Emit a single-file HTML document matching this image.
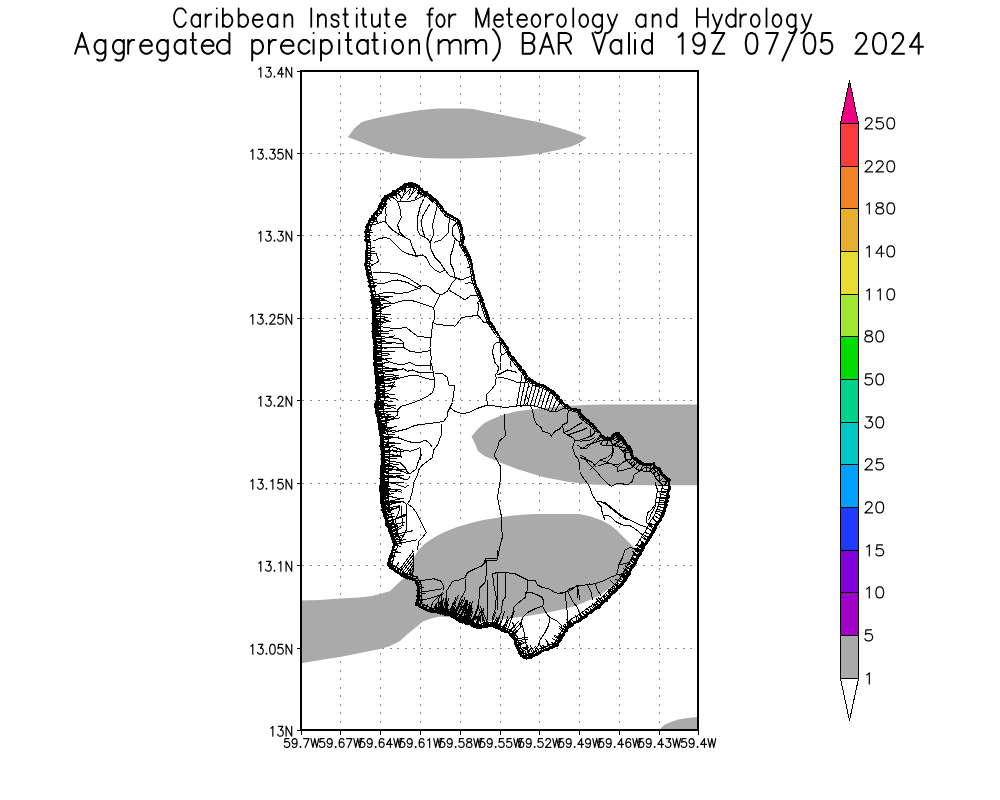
<!DOCTYPE html>
<html><head><meta charset="utf-8"><style>
html,body{margin:0;padding:0;background:#fff;overflow:hidden}
svg{display:block}
text{font-family:"Liberation Sans",sans-serif;fill:#000}
</style></head><body>
<svg width="1000" height="800" viewBox="0 0 1000 800">
<rect x="0" y="0" width="1000" height="800" fill="#fff"/>

<g stroke="#8c8c8c" stroke-width="1" shape-rendering="crispEdges">
<line x1="340.5" y1="72" x2="340.5" y2="729" stroke-dasharray="2 6.477" stroke-dashoffset="4.177"/>
<line x1="380.5" y1="72" x2="380.5" y2="729" stroke-dasharray="2 6.477" stroke-dashoffset="4.177"/>
<line x1="420.5" y1="72" x2="420.5" y2="729" stroke-dasharray="2 6.477" stroke-dashoffset="4.177"/>
<line x1="460.5" y1="72" x2="460.5" y2="729" stroke-dasharray="2 6.477" stroke-dashoffset="4.177"/>
<line x1="500.5" y1="72" x2="500.5" y2="729" stroke-dasharray="2 6.477" stroke-dashoffset="4.177"/>
<line x1="539.5" y1="72" x2="539.5" y2="729" stroke-dasharray="2 6.477" stroke-dashoffset="4.177"/>
<line x1="579.5" y1="72" x2="579.5" y2="729" stroke-dasharray="2 6.477" stroke-dashoffset="4.177"/>
<line x1="619.5" y1="72" x2="619.5" y2="729" stroke-dasharray="2 6.477" stroke-dashoffset="4.177"/>
<line x1="659.5" y1="72" x2="659.5" y2="729" stroke-dasharray="2 6.477" stroke-dashoffset="4.177"/>
<line x1="302" y1="153.5" x2="697" y2="153.5" stroke-dasharray="2 5.92" stroke-dashoffset="7.52"/>
<line x1="302" y1="235.5" x2="697" y2="235.5" stroke-dasharray="2 5.92" stroke-dashoffset="7.52"/>
<line x1="302" y1="318.5" x2="697" y2="318.5" stroke-dasharray="2 5.92" stroke-dashoffset="7.52"/>
<line x1="302" y1="400.5" x2="697" y2="400.5" stroke-dasharray="2 5.92" stroke-dashoffset="7.52"/>
<line x1="302" y1="483.5" x2="697" y2="483.5" stroke-dasharray="2 5.92" stroke-dashoffset="7.52"/>
<line x1="302" y1="565.5" x2="697" y2="565.5" stroke-dasharray="2 5.92" stroke-dashoffset="7.52"/>
<line x1="302" y1="648.5" x2="697" y2="648.5" stroke-dasharray="2 5.92" stroke-dashoffset="7.52"/>
</g>
<g fill="#aaaaaa" stroke="none">
<polygon points="347.80,137.00 354.30,128.60 360.80,122.80 366.00,120.80 379.00,117.60 392.00,115.00 405.00,112.40 418.00,110.40 431.00,109.10 438.80,108.50 463.50,108.50 473.00,109.10 486.00,111.70 499.00,114.30 512.00,116.90 525.00,119.50 538.00,122.10 551.00,125.40 564.00,129.30 577.00,133.80 586.80,137.70 579.60,142.90 570.50,146.80 557.50,150.10 544.50,152.70 531.50,154.60 518.50,155.90 499.00,157.20 479.50,157.90 460.00,158.50 438.80,158.50 424.50,157.90 411.50,156.60 398.50,154.60 385.50,151.40 372.50,146.80 359.50,141.60"/>
<polygon points="699.00,404.40 652.00,404.40 604.00,404.50 588.50,404.75 575.50,405.40 562.50,406.10 549.50,407.40 536.50,408.70 527.40,410.00 517.00,411.30 504.00,414.50 497.50,417.10 491.00,419.70 484.50,423.00 478.00,428.80 471.50,436.60 475.40,444.40 478.00,450.90 484.50,456.10 491.00,458.70 504.00,463.90 517.00,469.10 530.00,473.00 543.00,476.90 556.00,479.50 569.00,482.10 582.00,483.40 595.00,484.70 652.00,485.20 699.00,485.20"/>
<polygon points="300.00,600.50 320.00,600.00 340.00,598.50 360.00,597.50 372.00,596.00 380.00,594.00 390.00,591.00 397.40,584.00 402.00,579.50 407.50,576.50 411.00,570.00 412.50,560.00 418.00,550.50 424.50,544.00 431.00,539.50 437.50,535.60 444.00,532.30 457.00,527.10 470.00,523.20 483.00,520.00 496.00,518.00 509.00,516.00 522.00,514.75 535.00,513.90 545.00,514.00 560.00,514.00 579.50,514.00 590.00,516.25 600.50,520.00 609.50,524.50 617.00,530.50 624.50,538.00 630.50,544.00 635.00,548.00 634.00,554.50 631.00,562.00 627.50,569.50 623.00,577.00 617.00,583.00 608.00,589.00 600.50,595.00 593.00,598.50 584.00,602.50 575.00,606.00 560.00,610.00 545.00,613.00 530.00,615.50 520.00,617.00 510.00,618.00 500.00,619.50 490.00,621.00 480.00,621.50 470.00,621.00 460.00,619.50 450.00,617.20 440.00,616.50 431.00,618.40 423.00,621.60 415.00,628.00 407.00,634.40 400.00,641.00 390.00,646.00 380.00,649.00 360.00,653.00 340.00,657.00 320.00,660.00 300.00,663.50"/>
<polygon points="660.00,729.00 664.50,724.80 671.50,721.70 678.50,719.60 685.50,718.20 699.00,716.80 699.00,729.00"/>
</g>
<g fill="none" stroke="#000" stroke-linejoin="round" shape-rendering="crispEdges">
<path d="M391.2,192.5 L385.0,196.2 L381.2,201.2 L380.1,204.0 L382.7,204.0 L383.4,202.4 L386.6,198.1 L398.7,190.8 L398.9,190.7 L404.7,186.6 L412.2,185.0 L416.1,187.0 L420.8,191.7 L421.0,191.9 L421.2,192.0 L421.4,192.1 L426.2,194.5 L430.9,198.1 L433.0,200.1 L433.0,196.8 L432.5,196.2 L427.5,192.5 L422.5,190.0 L417.5,185.0 L412.5,182.5 L403.8,184.4 L397.5,188.8 L391.2,192.5ZM378.8,207.5 L375.0,212.5 L371.2,217.5 L367.5,223.8 L365.0,230.0 L365.0,237.5 L366.2,246.2 L366.2,255.0 L365.0,265.0 L366.2,270.0 L368.8,282.5 L371.2,295.0 L371.4,296.0 L373.6,296.0 L373.4,294.8 L373.4,294.6 L368.4,269.6 L368.4,269.5 L367.2,264.9 L368.4,255.3 L368.4,255.0 L368.4,246.2 L368.4,245.9 L367.2,237.3 L367.2,230.4 L369.5,224.7 L373.1,218.7 L380.5,208.8 L380.6,208.7 L380.7,208.5 L380.8,208.3 L382.5,204.0 L380.1,204.0 L378.8,207.5ZM372.5,307.5 L372.5,320.0 L372.5,332.5 L373.8,345.0 L373.8,360.0 L375.0,372.5 L376.2,385.0 L376.2,397.5 L375.0,407.5 L376.2,416.2 L378.8,425.0 L380.0,435.0 L380.6,447.5 L381.2,450.0 L381.2,462.5 L380.6,475.0 L380.0,487.5 L380.6,500.0 L382.5,512.5 L386.2,525.0 L391.2,537.5 L393.8,545.0 L397.2,545.0 L397.2,544.9 L397.2,544.6 L397.2,544.2 L397.1,543.9 L394.6,536.4 L394.5,536.2 L389.6,523.8 L385.9,511.7 L384.1,499.7 L383.5,487.5 L384.1,475.2 L384.7,462.7 L384.8,462.5 L384.8,450.0 L384.7,449.7 L384.7,449.4 L384.6,449.1 L384.1,447.0 L383.5,434.8 L383.5,434.6 L382.2,424.6 L382.2,424.3 L382.1,424.0 L379.7,415.5 L378.5,407.5 L379.7,397.9 L379.8,397.5 L379.8,385.0 L379.7,384.7 L377.2,359.8 L377.2,345.0 L377.2,344.7 L376.0,332.3 L376.0,307.5 L376.0,307.2 L374.9,296.0 L371.4,296.0 L372.5,307.5ZM391.2,551.2 L388.8,561.2 L387.5,565.0 L391.2,568.8 L397.5,572.5 L402.5,576.2 L408.8,578.8 L413.8,580.0 L416.0,582.5 L417.5,586.0 L417.5,600.0 L415.0,605.0 L420.0,607.5 L425.0,610.0 L431.0,612.0 L432.0,612.0 L432.0,610.2 L425.8,608.1 L417.7,604.1 L419.3,600.9 L419.4,600.7 L419.4,600.5 L419.5,600.4 L419.5,600.2 L419.5,600.0 L419.5,586.0 L419.5,585.8 L419.5,585.6 L419.4,585.4 L419.3,585.2 L417.8,581.7 L417.7,581.5 L417.6,581.3 L417.5,581.2 L415.2,578.7 L415.1,578.5 L414.9,578.4 L414.8,578.3 L414.6,578.2 L414.4,578.1 L414.2,578.1 L409.4,576.8 L403.5,574.5 L398.7,570.9 L398.5,570.8 L392.5,567.2 L389.8,564.5 L390.6,561.9 L390.7,561.7 L393.2,551.9 L395.6,545.7 L395.7,545.6 L395.7,545.4 L395.7,545.2 L395.7,545.0 L393.8,545.0 L391.2,551.2ZM432.5,612.5 L440.0,613.8 L447.5,615.0 L452.5,617.5 L458.8,621.2 L465.0,623.8 L472.5,626.2 L477.5,628.8 L485.0,627.5 L490.0,626.0 L495.0,627.5 L500.0,630.0 L506.2,632.5 L510.0,635.0 L513.8,638.8 L515.0,645.0 L515.0,636.9 L511.6,633.4 L511.4,633.3 L511.2,633.2 L507.5,630.7 L507.3,630.6 L507.1,630.5 L500.9,628.0 L496.0,625.5 L495.8,625.5 L495.6,625.4 L490.6,623.9 L490.4,623.8 L490.2,623.8 L490.0,623.8 L489.8,623.8 L489.6,623.8 L489.4,623.9 L484.5,625.4 L477.8,626.5 L473.5,624.3 L473.2,624.2 L465.8,621.7 L459.7,619.3 L453.6,615.6 L453.5,615.5 L448.5,613.0 L448.3,612.9 L448.1,612.9 L447.9,612.8 L433.0,610.4 L432.0,610.0 L432.0,612.3 L432.5,612.5ZM440.0,613.8 L447.5,615.0 L452.5,617.5 L458.8,621.2 L465.0,623.8 L471.8,626.0 L472.0,626.0 L472.0,622.9 L466.0,620.9 L460.1,618.6 L454.0,614.9 L453.8,614.8 L448.8,612.3 L448.6,612.2 L448.3,612.1 L448.0,612.0 L436.0,610.0 L436.0,613.1 L440.0,613.8ZM517.5,650.0 L520.0,655.5 L525.0,658.8 L530.0,658.8 L535.0,656.0 L540.0,653.0 L545.0,651.0 L551.2,648.5 L557.5,646.2 L561.2,640.0 L563.8,635.0 L566.0,631.6 L566.0,628.4 L564.7,629.7 L564.5,629.9 L564.4,630.0 L561.9,633.8 L561.8,634.0 L559.3,638.9 L556.0,644.4 L550.5,646.4 L550.4,646.5 L539.2,651.0 L539.0,651.0 L538.9,651.1 L533.9,654.1 L529.4,656.5 L525.7,656.5 L521.7,654.0 L519.5,649.1 L519.5,649.0 L517.1,644.3 L515.9,638.3 L515.9,638.1 L515.8,637.9 L515.7,637.7 L515.6,637.5 L515.5,637.4 L515.3,637.2 L515.0,636.9 L515.0,645.0 L517.5,650.0ZM566.2,631.2 L570.0,627.5 L575.0,623.8 L580.0,621.2 L585.0,617.5 L590.0,613.8 L600.0,607.0 L607.5,600.0 L611.2,596.2 L616.2,591.2 L621.2,586.2 L625.0,581.2 L628.8,575.0 L632.5,568.8 L636.2,562.5 L640.0,555.0 L643.8,548.8 L646.0,545.0 L643.1,545.0 L637.9,553.7 L637.8,553.9 L634.1,561.3 L622.9,579.9 L619.4,584.6 L605.8,598.2 L598.4,605.0 L588.6,611.7 L588.5,611.8 L578.7,619.1 L573.9,621.5 L573.7,621.6 L573.5,621.8 L568.5,625.5 L568.2,625.7 L566.0,628.0 L566.0,631.6 L566.2,631.2ZM647.5,542.5 L652.5,535.0 L657.5,525.0 L661.2,520.0 L663.8,513.8 L666.2,507.5 L667.5,501.2 L668.8,495.0 L670.0,488.8 L670.0,478.8 L666.2,477.5 L662.5,473.8 L660.0,468.8 L656.2,466.2 L653.8,462.5 L647.5,463.8 L641.2,462.5 L636.2,458.8 L632.5,455.0 L631.2,447.5 L626.2,443.8 L622.5,437.5 L618.8,432.5 L613.8,433.8 L611.2,437.5 L605.0,437.5 L600.0,432.5 L600.0,436.0 L603.2,439.3 L603.4,439.4 L603.6,439.6 L603.8,439.7 L604.0,439.8 L604.3,439.9 L604.5,440.0 L604.8,440.0 L605.0,440.0 L611.2,440.0 L611.5,440.0 L611.7,440.0 L612.0,439.9 L612.2,439.8 L612.4,439.7 L612.6,439.6 L612.8,439.4 L613.0,439.3 L613.2,439.1 L613.3,438.9 L615.3,435.9 L617.7,435.3 L620.4,438.9 L624.1,445.0 L624.2,445.2 L624.4,445.4 L624.6,445.6 L624.8,445.8 L628.9,448.9 L630.0,455.4 L630.1,455.7 L630.2,455.9 L630.3,456.1 L630.4,456.4 L630.6,456.6 L630.7,456.8 L634.5,460.5 L634.8,460.8 L639.8,464.5 L639.9,464.6 L640.1,464.7 L640.3,464.8 L640.5,464.9 L640.8,465.0 L647.0,466.2 L647.3,466.2 L647.5,466.2 L647.7,466.2 L648.0,466.2 L652.6,465.3 L654.2,467.6 L654.3,467.8 L654.5,468.0 L654.7,468.2 L654.9,468.3 L658.1,470.5 L660.3,474.9 L660.4,475.1 L660.6,475.3 L660.7,475.5 L664.5,479.3 L664.7,479.4 L664.8,479.6 L665.0,479.7 L665.2,479.8 L665.5,479.9 L667.5,480.6 L667.5,488.5 L663.8,506.8 L659.1,518.8 L655.5,523.5 L655.4,523.7 L655.3,523.9 L650.3,533.7 L645.4,541.1 L645.4,541.2 L643.1,545.0 L646.0,545.0 L647.5,542.5ZM497.5,332.5 L495.0,328.8 L490.0,321.2 L487.5,315.0 L485.0,307.5 L482.5,300.0 L480.0,293.8 L477.5,287.5 L475.0,280.0 L473.8,272.5 L472.5,265.0 L470.0,257.5 L466.2,250.0 L462.5,243.8 L463.8,237.5 L462.5,230.0 L460.0,222.5 L457.5,218.8 L452.5,216.2 L447.5,213.8 L442.5,207.5 L437.5,201.2 L433.0,196.8 L433.0,199.3 L436.2,202.5 L446.1,214.9 L446.2,215.0 L446.4,215.1 L446.5,215.3 L446.7,215.4 L456.3,220.1 L458.4,223.3 L460.7,230.4 L461.9,237.5 L460.7,243.4 L460.7,243.6 L460.7,243.7 L460.7,243.9 L460.7,244.1 L460.8,244.2 L460.8,244.4 L460.9,244.5 L461.0,244.7 L464.7,250.9 L468.3,258.2 L470.7,265.4 L473.2,280.3 L473.3,280.4 L473.3,280.6 L475.8,288.1 L475.8,288.2 L480.8,300.6 L485.8,315.6 L485.8,315.7 L488.3,321.9 L488.4,322.1 L488.5,322.2 L497.0,335.0 L499.2,335.0 L497.5,332.5ZM598.8,431.2 L592.5,423.5 L587.5,420.0 L582.5,416.2 L580.0,410.0 L575.0,408.8 L570.0,407.5 L565.0,403.8 L560.0,398.8 L555.0,392.5 L550.0,388.8 L542.5,385.0 L535.0,382.5 L527.5,377.5 L526.2,373.8 L521.2,367.5 L516.2,361.2 L511.2,355.0 L507.5,347.5 L502.5,340.0 L500.0,336.2 L500.0,339.9 L505.8,348.5 L509.5,355.9 L509.6,356.1 L509.7,356.2 L524.5,374.7 L525.6,378.1 L525.7,378.3 L525.8,378.5 L525.9,378.6 L526.0,378.8 L526.1,378.9 L526.2,379.1 L526.4,379.2 L533.9,384.2 L534.0,384.3 L534.2,384.3 L534.4,384.4 L541.7,386.9 L548.9,390.5 L553.6,393.9 L558.4,400.0 L558.6,400.2 L563.6,405.2 L563.8,405.4 L568.8,409.1 L569.0,409.2 L569.1,409.3 L569.3,409.4 L569.5,409.4 L578.5,411.7 L580.6,417.0 L580.7,417.2 L580.8,417.3 L580.9,417.5 L581.0,417.6 L581.2,417.7 L581.3,417.9 L586.3,421.6 L586.4,421.6 L591.1,425.0 L596.8,432.0 L599.5,432.0 L598.8,431.2Z" fill="#000" stroke="none"/>
<path d="M405.4,188.1 L399.8,192.0 L399.6,192.2 L387.7,199.3 L384.8,203.2 L384.5,204.0M433.0,202.4 L429.9,199.3 L425.4,195.9 L420.7,193.6 L420.3,193.4 L420.0,193.1 L419.7,192.8 L415.1,188.3 L412.0,186.7 L405.4,188.1M385.0,204.0 L382.9,209.2 L382.8,209.5 L382.6,209.9 L382.4,210.2 L375.0,220.0 L371.5,225.8 L369.5,230.9 L369.5,237.2 L370.7,245.6 L370.8,246.2 L370.8,255.0 L370.7,255.6 L369.6,264.7 L370.6,268.9 L370.7,269.1 L375.7,294.1 L375.7,294.6 L375.9,296.0M379.4,296.0 L380.5,306.7 L380.5,307.5 L380.5,332.1 L381.7,344.2 L381.8,345.0 L381.8,359.6 L384.2,384.2 L384.2,385.0 L384.2,397.5 L384.2,398.5 L383.1,407.4 L384.1,414.6 L386.4,422.8 L386.6,423.4 L386.7,424.0 L387.9,434.0 L388.0,434.6 L388.6,446.3 L389.0,448.0 L389.1,448.6 L389.2,449.3 L389.2,450.0 L389.2,462.5 L389.2,462.9 L388.6,475.4 L388.0,487.5 L388.6,499.2 L390.3,510.7 L393.8,522.4 L398.7,534.5 L398.8,535.0 L401.3,542.5 L401.6,543.2 L401.7,544.0 L401.7,544.8 L401.7,545.0M397.7,545.0 L397.7,545.3 L397.7,545.7 L397.6,546.1 L397.5,546.5 L395.1,552.5 L392.6,562.2 L392.5,562.5 L392.1,563.9 L393.7,565.6 L399.6,569.1 L399.9,569.3 L404.5,572.7 L410.0,574.9 L414.7,576.1 L415.1,576.2 L415.5,576.4 L415.8,576.6 L416.1,576.8 L416.4,577.0 L416.7,577.3 L419.0,579.8 L419.2,580.2 L419.5,580.5 L419.7,580.9 L421.2,584.4 L421.3,584.8 L421.4,585.2 L421.5,585.6 L421.5,586.0 L421.5,600.0 L421.5,600.4 L421.4,600.7 L421.3,601.1 L421.2,601.4 L421.1,601.8 L420.4,603.2 L426.5,606.3 L432.0,608.1M432.0,608.1 L433.5,608.6 L448.2,611.1 L448.5,611.1 L448.9,611.3 L449.3,611.4 L454.3,613.9 L454.6,614.1 L460.5,617.7 L466.4,620.0 L473.8,622.5 L474.3,622.7 L478.1,624.6 L484.1,623.6 L488.9,622.2 L489.2,622.1 L489.6,622.0 L490.0,622.0 L490.4,622.0 L490.8,622.1 L491.1,622.2 L496.1,623.7 L496.5,623.8 L496.8,623.9 L501.6,626.3 L507.7,628.8 L508.1,629.0 L508.5,629.2 L512.2,631.7 L512.5,631.9 L512.8,632.2 L515.0,634.3M436.0,607.0 L448.5,609.1 L449.1,609.2 L449.6,609.4 L450.2,609.6 L455.2,612.1 L455.6,612.4 L461.4,615.9 L467.1,618.1 L472.0,619.8M515.0,634.3 L516.6,635.9 L516.8,636.2 L517.1,636.5 L517.3,636.9 L517.4,637.2 L517.6,637.6 L517.7,638.0 L518.8,643.7 L521.1,648.2 L521.1,648.3 L523.2,652.8 L526.2,654.8 L529.0,654.8 L533.0,652.5 L537.9,649.6 L538.2,649.4 L538.5,649.3 L549.8,644.8 L549.9,644.7 L554.8,643.0 L557.7,638.1 L560.2,633.2 L560.4,632.8 L562.9,629.0 L563.2,628.7 L563.4,628.4 L566.0,625.8M566.0,623.0 L566.4,622.7 L571.4,619.0 L571.8,618.6 L572.3,618.4 L576.8,616.1 L586.4,609.0 L586.6,608.8 L596.3,602.3 L603.3,595.7 L616.7,582.3 L620.0,577.9 L631.0,559.6 L634.6,552.3 L634.9,551.9 L639.0,545.0M636.7,545.0 L640.6,538.4 L640.8,538.1 L645.6,531.0 L650.3,521.4 L650.7,520.8 L651.1,520.2 L654.2,516.0 L658.5,505.2 L662.0,488.0 L662.0,484.3 L661.7,484.1 L661.1,483.7 L660.6,483.2 L656.8,479.4 L656.3,478.8 L655.8,478.1 L655.3,477.3 L653.8,474.2 L651.8,472.9 L651.2,472.4 L650.6,471.9 L650.1,471.4 L649.1,471.6 L648.3,471.7 L647.5,471.8 L646.7,471.7 L645.9,471.6 L639.7,470.3 L639.0,470.2 L638.3,469.9 L637.7,469.7 L637.0,469.3 L636.5,468.9 L631.5,465.1 L630.6,464.4 L626.8,460.7 L626.3,460.0 L625.8,459.4 L625.4,458.7 L625.0,457.9 L624.8,457.1 L624.6,456.3 L623.9,452.0 L621.5,450.1 L620.9,449.7 L620.3,449.1 L619.8,448.5 L619.4,447.9 L616.7,443.4 L616.3,443.7 L615.7,444.1 L615.0,444.6 L614.3,444.9 L613.6,445.2 L612.8,445.3 L612.0,445.5 L611.2,445.5 L605.0,445.5 L604.2,445.5 L603.4,445.3 L602.7,445.2 L601.9,444.9 L601.2,444.6 L600.6,444.2 L600.0,443.7M495.6,335.0 L487.5,322.9 L487.3,322.6 L487.2,322.4 L484.7,316.1 L484.7,315.9 L479.7,301.0 L474.7,288.6 L474.7,288.4 L472.2,280.9 L472.1,280.7 L472.0,280.5 L469.6,265.7 L467.2,258.7 L463.6,251.4 L459.9,245.3 L459.8,245.1 L459.7,244.8 L459.6,244.5 L459.5,244.3 L459.5,244.0 L459.5,243.7 L459.5,243.4 L459.6,243.2 L460.7,237.5 L459.6,230.7 L457.3,223.8 L455.4,221.1 L446.2,216.4 L445.9,216.3 L445.6,216.1 L445.4,215.9 L445.2,215.6 L435.3,203.3 L433.0,201.0M595.5,432.0 L590.4,425.7 L585.8,422.5 L585.7,422.4 L580.7,418.6 L580.5,418.5 L580.3,418.3 L580.1,418.1 L580.0,417.9 L579.8,417.6 L579.7,417.4 L577.8,412.5 L569.3,410.4 L569.0,410.3 L568.7,410.2 L568.4,410.1 L568.2,409.9 L563.2,406.1 L562.9,405.9 L557.9,400.9 L557.7,400.6 L552.9,394.7 L548.4,391.3 L541.3,387.8 L534.1,385.3 L533.8,385.3 L533.6,385.1 L533.3,385.0 L525.8,380.0 L525.6,379.8 L525.4,379.6 L525.2,379.4 L525.0,379.2 L524.9,379.0 L524.8,378.7 L524.7,378.4 L523.6,375.2 L508.9,356.9 L508.7,356.6 L508.6,356.3 L504.9,349.0 L500.0,341.7" stroke-width="1"/>
<path d="M403.8,184.4 L406.5,187.6M402.1,185.6 L404.6,188.9M400.3,186.8 L402.5,190.4M399.2,187.6 L402.2,190.5M397.1,189.0 L399.7,192.3M395.7,189.8 L397.1,193.8M394.1,190.8 L395.7,194.7M392.4,191.8 L394.3,195.5M391.2,192.6 L393.1,196.3M388.9,193.9 L391.1,197.5M386.9,195.1 L388.8,198.9M385.8,195.8 L387.6,199.6M384.3,197.2 L387.8,199.5M383.5,198.2 L386.4,201.2M382.3,199.8 L385.4,202.6M381.0,202.0 L384.6,204.0M433.0,196.7 L430.2,199.9M431.0,195.1 L428.6,198.6M428.9,193.5 L425.9,196.4M427.8,192.7 L426.0,196.5M426.4,192.0 L423.9,195.3M424.7,191.1 L422.7,194.8M423.2,190.4 L421.2,194.1M421.8,189.3 L419.0,192.4M420.3,187.8 L417.2,190.6M418.4,185.9 L415.2,188.6M416.3,184.4 L413.8,187.8M413.8,183.1 L411.6,186.7M412.5,182.5 L411.4,186.6M409.8,183.1 L410.0,187.3M407.7,183.5 L408.2,187.7M406.2,183.9 L406.5,188.1M404.1,184.3 L405.4,188.3M380.1,204.1 L384.7,205.4M379.5,205.6 L383.9,207.3M378.4,207.9 L382.8,209.8M377.3,209.4 L381.3,212.0M375.6,211.7 L379.5,214.4M373.9,213.9 L378.1,216.2M372.8,215.4 L376.4,218.5M371.1,217.8 L375.1,220.3M370.2,219.2 L374.6,221.0M369.0,221.2 L373.4,223.1M367.6,223.5 L371.5,226.3M367.0,225.0 L371.5,226.4M366.0,227.6 L370.2,229.6M365.0,230.1 L369.7,230.6M365.0,231.7 L369.7,231.3M365.0,234.4 L369.7,233.9M365.0,236.3 L369.7,236.2M365.1,238.4 L369.8,237.6M365.5,241.3 L370.1,239.9M365.7,242.6 L370.4,242.8M366.1,245.4 L370.8,245.8M366.2,247.5 L370.9,248.4M366.2,250.5 L370.9,249.9M366.2,253.1 L370.9,253.8M366.2,255.6 L370.9,256.1M366.0,257.4 L370.7,257.7M365.7,259.1 L370.5,258.8M365.4,261.4 L370.2,261.6M365.1,264.2 L369.8,263.7M365.5,267.0 L370.2,266.2M366.2,269.9 L370.9,269.6M366.8,272.7 L371.5,271.9M367.1,274.0 L371.8,273.6M367.4,275.6 L371.9,274.3M367.9,278.1 L372.5,277.2M368.3,280.1 L373.0,280.0M368.7,282.4 L373.3,281.2M369.1,284.1 L373.8,283.9M369.5,286.3 L374.2,285.9M369.9,288.2 L374.4,286.7M370.3,290.4 L375.0,290.1M370.6,292.0 L375.4,291.6M371.2,294.9 L375.9,294.7M371.4,296.5 L379.8,296.8M371.5,297.7 L379.7,295.7M371.6,298.9 L380.0,298.4M371.8,300.7 L380.1,299.5M371.9,302.0 L380.3,300.8M372.1,303.3 L380.4,302.2M372.2,304.3 L380.5,303.5M372.4,306.4 L380.7,305.2M372.5,308.1 L380.8,306.8M372.5,309.9 L380.9,310.8M372.5,311.6 L380.9,311.6M372.5,313.1 L380.9,313.6M372.5,315.0 L380.8,313.8M372.5,316.1 L380.9,316.9M372.5,318.1 L380.9,318.1M372.5,319.5 L380.9,320.3M372.5,320.6 L380.9,319.8M372.5,321.8 L380.9,322.1M372.5,323.0 L380.8,322.1M372.5,324.8 L380.7,326.3M372.5,326.0 L380.9,326.7M372.5,327.4 L380.8,328.7M372.5,329.0 L380.9,328.2M372.5,330.2 L380.7,328.5M372.5,331.6 L380.9,331.2M372.5,332.8 L380.9,331.7M372.7,334.0 L381.1,334.2M372.8,335.1 L381.1,336.0M372.9,336.6 L381.3,336.1M373.1,338.0 L381.4,338.4M373.2,339.9 L381.6,339.3M373.4,341.4 L381.8,341.3M373.6,343.3 L381.9,342.1M373.8,345.1 L382.1,346.3M373.8,346.5 L382.1,345.6M373.8,347.7 L382.1,348.5M373.8,349.4 L382.0,351.0M373.8,351.3 L382.1,350.4M373.8,352.5 L382.1,351.6M373.8,353.6 L382.1,354.3M373.8,355.5 L382.0,356.9M373.8,356.7 L382.1,358.0M373.8,358.0 L382.1,357.7M373.8,359.8 L382.0,358.0M373.8,360.8 L382.2,361.2M374.0,362.0 L382.2,360.7M374.1,363.6 L382.5,363.4M374.2,364.5 L382.5,363.1M374.3,365.9 L382.7,365.1M374.5,367.1 L382.8,366.5M374.7,369.1 L383.0,367.9M374.8,370.7 L382.9,368.5M374.9,371.9 L383.3,371.6M375.0,372.9 L383.4,373.4M375.2,374.9 L383.3,372.7M375.4,376.9 L383.7,375.6M375.6,378.7 L384.0,378.8M375.7,380.0 L384.1,379.8M375.9,381.7 L384.3,381.9M376.0,382.9 L384.4,382.9M376.2,384.9 L384.6,385.1M376.2,386.5 L384.5,385.1M376.2,388.0 L384.6,387.4M376.2,389.7 L384.6,390.3M376.2,391.3 L384.6,390.2M376.2,393.0 L384.6,393.4M376.2,394.1 L384.5,395.5M376.2,395.8 L384.5,394.5M376.2,397.8 L384.6,397.2M376.1,399.1 L384.3,400.9M375.9,400.7 L384.2,401.9M375.6,402.3 L384.0,403.2M375.5,403.6 L383.9,403.5M375.4,404.6 L383.6,406.4M375.1,406.4 L383.5,407.6M375.1,408.1 L383.4,406.8M375.3,409.4 L383.5,407.8M375.5,411.3 L383.5,408.5M375.8,412.8 L383.9,410.7M376.0,414.6 L384.2,412.9M376.2,415.9 L384.4,414.0M376.6,417.4 L384.9,416.0M376.9,418.6 L385.3,417.5M377.2,419.6 L385.0,416.6M377.5,420.6 L385.1,417.0M378.0,422.4 L386.3,420.8M378.3,423.5 L386.0,420.1M378.7,424.8 L387.0,423.8M379.0,426.7 L387.4,426.5M379.2,428.3 L387.2,426.0M379.3,429.6 L387.5,427.5M379.5,431.1 L387.9,430.3M379.7,432.3 L387.8,430.4M379.9,434.1 L387.9,431.5M380.0,436.0 L388.4,436.9M380.1,438.0 L388.5,437.2M380.2,439.6 L388.6,439.4M380.3,441.2 L388.6,442.5M380.4,442.9 L388.7,441.8M380.5,444.9 L388.9,444.4M380.6,446.5 L388.9,446.9M380.6,447.4 L389.0,447.2M381.0,449.0 L389.1,446.9M381.2,450.5 L389.6,449.9M381.2,451.7 L389.6,451.8M381.2,452.6 L389.6,452.6M381.2,454.3 L389.6,454.1M381.2,455.9 L389.5,457.5M381.2,457.8 L389.6,456.6M381.2,459.7 L389.6,460.1M381.2,460.6 L389.6,460.1M381.2,461.8 L389.5,460.4M381.2,463.4 L389.4,465.3M381.1,464.7 L389.4,466.4M381.0,466.4 L389.4,465.5M380.9,468.3 L389.3,469.1M380.8,470.3 L389.2,471.5M380.8,472.1 L389.1,472.0M380.7,474.0 L388.8,475.9M380.6,475.9 L389.0,476.1M380.5,477.7 L388.9,478.1M380.4,478.7 L388.7,477.5M380.4,479.7 L388.7,479.1M380.3,480.8 L388.7,481.2M380.2,482.6 L388.6,483.1M380.2,484.0 L388.5,484.9M380.1,485.2 L388.5,485.5M380.0,487.0 L388.4,486.9M380.0,488.2 L388.4,489.3M380.1,489.9 L388.5,489.0M380.2,491.3 L388.6,491.0M380.3,492.9 L388.5,491.5M380.3,493.8 L388.6,492.4M380.4,495.6 L388.6,494.0M380.5,497.1 L388.7,495.6M380.5,498.2 L388.8,496.7M380.6,499.6 L388.8,497.8M380.7,500.5 L388.7,498.1M380.8,501.6 L389.1,500.3M381.0,502.6 L388.9,499.7M381.2,504.0 L389.5,502.4M381.5,505.7 L389.4,502.9M381.7,507.1 L389.9,505.5M381.8,508.0 L390.2,508.4M382.0,509.2 L390.0,506.5M382.2,510.6 L390.3,508.2M382.5,512.2 L390.6,510.0M382.7,513.2 L390.2,509.5M383.2,514.9 L391.0,511.8M383.8,516.7 L391.8,514.2M384.3,518.6 L392.2,515.6M384.7,519.8 L392.5,516.6M385.2,521.6 L393.4,519.6M385.6,522.9 L393.1,519.1M386.1,524.5 L394.4,523.5M386.7,526.0 L393.6,521.3M387.0,526.9 L394.2,522.5M387.4,527.9 L394.5,523.3M387.8,528.8 L395.8,526.2M388.5,530.6 L395.9,526.6M389.3,532.6 L397.0,529.4M390.0,534.3 L398.2,532.6M390.7,536.2 L397.8,531.6M391.2,537.4 L399.2,534.8M391.8,539.3 L399.2,535.3M392.2,540.5 L400.5,539.0M392.6,541.5 L400.4,538.4M393.0,542.7 L401.1,540.6M393.6,544.6 L401.7,542.4M393.6,545.4 L397.7,546.2M392.4,548.3 L396.1,550.4M391.0,552.2 L395.1,553.3M390.3,554.9 L394.3,556.2M389.8,556.9 L394.0,557.7M388.9,560.6 L392.8,562.1M388.4,562.4 L392.1,564.3M387.5,565.0 L391.7,564.8M389.4,566.9 L392.0,563.6M391.7,569.0 L394.6,566.0M394.1,570.5 L396.8,567.2M397.1,572.3 L399.2,568.6M399.2,573.8 L401.7,570.4M401.4,575.4 L403.7,571.9M404.3,577.0 L406.5,573.4M407.3,578.2 L408.3,574.1M409.5,578.9 L410.3,574.8M412.7,579.7 L413.1,575.5M414.3,580.6 L417.1,577.5M416.0,582.5 L419.0,579.6M417.2,585.3 L421.4,584.6M417.5,588.4 L421.7,588.8M417.5,592.1 L421.7,592.7M417.5,596.1 L421.7,596.0M417.5,599.6 L421.7,599.5M415.9,603.1 L419.8,604.8M415.7,605.4 L418.5,602.2M418.0,606.5 L419.3,602.5M421.4,608.2 L423.4,604.5M423.1,609.1 L424.2,605.0M425.5,610.2 L426.1,606.0M429.1,611.4 L429.9,607.3M432.4,612.5 L433.2,608.3M433.6,612.7 L433.9,608.5M435.0,612.9 L436.0,608.8M436.4,613.2 L436.5,609.0M437.7,613.4 L438.3,609.2M439.5,613.7 L439.8,609.5M441.5,614.0 L441.6,609.8M443.4,614.3 L444.2,610.2M444.6,614.5 L445.7,610.5M446.1,614.8 L446.9,610.6M447.9,615.2 L449.7,611.4M449.4,615.9 L450.5,611.9M451.2,616.9 L453.6,613.4M452.7,617.6 L454.9,614.0M453.9,618.3 L456.6,615.2M455.6,619.3 L457.3,615.5M457.4,620.4 L460.3,617.4M458.7,621.2 L461.3,617.9M460.2,621.8 L461.3,617.8M462.1,622.6 L463.4,618.6M464.0,623.3 L465.7,619.5M465.0,623.8 L466.5,619.8M467.1,624.5 L468.4,620.5M468.8,625.0 L470.7,621.3M470.3,625.5 L471.6,621.5M472.0,626.1 L474.0,622.4M473.2,626.6 L474.4,622.6M475.1,627.5 L477.0,623.8M476.3,628.2 L478.8,624.8M478.4,628.6 L477.9,624.4M480.8,628.2 L480.6,624.0M482.8,627.9 L481.7,623.8M483.8,627.7 L483.4,623.5M485.8,627.3 L484.3,623.3M487.4,626.8 L486.3,622.7M488.7,626.4 L487.8,622.3M490.4,626.1 L490.6,621.9M491.5,626.4 L492.8,622.5M492.9,626.9 L494.5,623.0M494.1,627.2 L495.1,623.2M495.3,627.6 L496.8,623.7M496.9,628.5 L498.1,624.4M497.9,628.9 L499.7,625.2M499.0,629.5 L500.9,625.8M500.2,630.1 L501.2,626.0M501.8,630.7 L504.0,627.2M503.8,631.5 L505.4,627.6M505.3,632.1 L506.1,628.0M506.5,632.7 L508.3,628.9M508.5,634.0 L510.2,630.1M510.3,635.3 L513.1,632.2M511.5,636.5 L514.1,633.2M513.1,638.1 L515.7,634.8M513.9,639.6 L518.0,638.7M514.2,640.9 L518.2,639.6M514.6,643.2 L518.8,642.9M436.3,613.1 L436.7,606.8M437.6,613.4 L439.1,607.2M439.4,613.7 L441.6,607.7M440.9,613.9 L441.1,607.6M442.1,614.1 L442.0,607.8M443.3,614.3 L444.6,608.1M444.9,614.6 L445.3,608.3M446.0,614.8 L446.0,608.5M447.1,614.9 L448.7,608.8M448.2,615.4 L451.8,610.2M449.6,616.1 L452.1,610.3M450.9,616.7 L452.6,610.6M452.5,617.5 L456.1,612.3M453.7,618.2 L457.4,613.1M454.7,618.8 L457.3,613.1M455.7,619.4 L458.2,613.7M457.1,620.3 L460.7,615.1M458.6,621.2 L460.5,615.2M460.3,621.9 L462.6,616.0M461.6,622.4 L463.9,616.5M462.9,622.9 L464.5,616.8M464.2,623.4 L466.8,617.7M465.8,624.0 L468.8,618.5M466.9,624.4 L469.8,618.8M468.6,625.0 L471.2,619.2M470.6,625.6 L471.7,619.4M515.0,645.0 L519.1,644.2M515.9,646.8 L519.5,644.7M516.8,648.6 L520.8,647.3M517.6,650.2 L521.3,648.2M518.3,651.8 L521.7,649.3M519.2,653.7 L523.0,651.9M520.0,655.5 L523.1,652.7M521.7,656.6 L524.3,653.3M522.9,657.4 L525.9,654.4M524.1,658.1 L526.9,655.0M525.4,658.8 L526.6,654.7M527.0,658.8 L526.3,654.6M529.1,658.8 L529.6,654.6M531.4,658.0 L530.0,654.0M533.8,656.6 L531.2,653.4M535.4,655.8 L532.7,652.5M537.5,654.5 L535.2,651.0M539.5,653.3 L538.0,649.4M542.1,652.2 L540.8,648.2M544.5,651.2 L543.0,647.3M545.7,650.7 L544.8,646.6M547.0,650.2 L544.8,646.6M549.3,649.3 L547.4,645.5M551.4,648.4 L549.2,644.9M552.9,647.9 L551.8,643.9M554.1,647.5 L552.7,643.5M556.6,646.6 L554.7,642.8M558.2,645.1 L554.8,642.6M559.3,643.2 L556.0,640.6M560.5,641.2 L556.6,639.8M561.3,639.9 L557.6,637.8M562.5,637.4 L558.6,636.0M563.5,635.5 L559.5,634.2M564.8,633.4 L561.3,631.1M566.0,631.7 L562.8,629.0M566.1,631.5 L561.4,627.3M567.0,630.5 L563.0,625.6M568.1,629.4 L564.7,624.1M569.1,628.4 L564.3,624.4M570.3,627.3 L567.0,621.9M572.3,625.8 L568.7,620.6M573.4,624.9 L569.5,620.0M575.3,623.6 L571.2,618.8M577.7,622.4 L575.7,616.4M580.1,621.2 L577.2,615.6M581.8,619.9 L579.1,614.2M583.1,618.9 L579.0,614.2M584.3,618.1 L579.8,613.6M586.2,616.6 L581.7,612.2M588.2,615.1 L584.2,610.3M590.3,613.6 L587.2,608.1M592.2,612.3 L589.4,606.6M593.2,611.6 L589.2,606.7M594.7,610.6 L591.0,605.5M596.6,609.3 L593.9,603.6M598.5,608.0 L596.0,602.2M600.4,606.6 L596.0,602.1M601.9,605.2 L598.1,600.2M603.7,603.5 L599.2,599.2M605.0,602.3 L600.9,597.5M606.2,601.3 L602.6,596.0M607.0,600.4 L603.0,595.6M608.4,599.1 L603.5,595.2M609.9,597.6 L605.4,593.2M611.9,595.6 L608.2,590.5M613.4,594.1 L609.7,589.0M615.2,592.3 L610.2,588.5M617.0,590.5 L613.2,585.5M619.0,588.5 L615.0,583.6M620.3,587.2 L615.3,583.3M621.8,585.6 L616.3,582.4M623.2,583.6 L618.3,579.7M624.7,581.6 L619.4,578.3M625.6,580.2 L620.9,576.1M626.8,578.2 L621.2,575.3M627.9,576.5 L622.4,573.4M629.0,574.5 L623.6,571.3M629.9,573.1 L625.2,568.9M631.2,570.9 L626.2,567.1M632.1,569.5 L626.3,566.9M633.3,567.4 L628.4,563.5M634.4,565.5 L628.7,562.9M635.7,563.5 L630.3,560.2M636.5,561.9 L631.1,558.8M637.4,560.2 L631.9,557.0M638.5,558.1 L633.5,554.2M639.1,556.8 L633.5,553.8M640.3,554.4 L635.1,550.9M641.4,552.6 L636.6,548.6M642.1,551.5 L637.1,547.7M643.2,549.6 L637.9,546.2M644.1,548.2 L638.9,544.7M644.8,547.0 L639.4,543.7M645.6,545.6 L640.9,541.4M646.1,544.9 L639.5,539.6M648.2,541.4 L641.2,536.8M650.2,538.5 L642.8,534.5M652.3,535.3 L644.5,532.2M654.1,531.9 L646.7,527.8M654.9,530.1 L648.2,525.0M656.1,527.8 L648.0,525.5M657.2,525.7 L649.1,523.3M658.5,523.6 L652.3,518.0M661.0,520.3 L654.2,515.4M662.6,516.7 L655.2,512.6M663.9,513.5 L655.9,510.7M664.8,511.2 L656.6,509.3M665.9,508.4 L657.8,506.3M666.8,504.9 L658.4,503.9M667.4,501.8 L659.2,500.0M668.0,498.5 L659.7,498.1M668.5,496.2 L660.4,493.9M669.0,493.9 L660.9,491.7M669.8,489.9 L661.5,488.6M670.0,485.8 L661.6,485.4M670.0,481.7 L661.6,481.6M669.4,478.5 L664.8,485.6M667.2,477.8 L664.5,485.8M664.7,476.0 L658.9,482.0M662.4,473.5 L654.7,476.9M660.7,470.2 L652.8,473.0M659.6,468.5 L653.6,474.3M656.8,466.6 L650.6,472.3M655.6,465.3 L649.3,470.9M653.0,462.6 L654.1,471.0M649.6,463.3 L650.9,471.6M646.9,463.6 L646.1,472.0M643.8,463.0 L640.5,470.7M640.9,462.2 L635.8,468.9M638.8,460.7 L633.2,466.9M636.2,458.7 L630.1,464.5M633.5,456.0 L628.7,462.9M632.1,452.3 L623.7,453.3M631.7,449.9 L623.4,451.4M631.3,447.9 L623.9,451.9M628.5,445.5 L622.9,451.7M625.7,442.9 L619.2,448.2M624.7,441.1 L617.7,445.8M623.1,438.5 L615.6,442.2M621.7,436.5 L614.5,440.8M619.8,433.9 L613.5,439.5M616.9,433.0 L620.3,440.6M613.7,433.8 L619.5,439.9M612.7,435.3 L619.7,439.9M610.8,437.5 L612.5,445.7M608.1,437.5 L606.6,445.8M604.6,437.1 L600.6,444.5M603.3,435.8 L596.3,440.5M601.3,433.8 L596.5,440.7M499.0,334.7 L496.2,336.3M497.7,332.8 L495.2,334.7M495.7,329.7 L493.1,331.6M493.7,326.7 L490.8,328.0M491.5,323.5 L488.8,325.1M489.7,320.4 L486.9,321.9M488.4,317.1 L485.4,318.1M487.1,313.9 L484.2,314.9M485.9,310.3 L483.1,311.6M484.7,306.7 L481.6,307.1M484.1,304.8 L481.2,306.1M482.7,300.6 L479.9,302.1M481.2,296.9 L478.3,297.9M480.5,294.9 L477.5,295.9M479.7,293.1 L476.7,293.9M478.7,290.6 L475.7,291.3M477.2,286.7 L474.4,288.1M476.3,283.9 L473.5,285.3M475.1,280.2 L472.2,281.5M474.7,278.2 L471.7,279.2M474.0,274.1 L471.0,274.9M473.6,271.4 L470.5,272.0M473.0,268.1 L469.9,268.7M472.1,263.9 L469.2,265.0M471.1,260.9 L468.0,261.4M470.3,258.5 L467.5,259.9M468.6,254.8 L465.9,256.4M466.8,251.0 L463.8,252.0M465.4,248.5 L462.8,250.3M464.2,246.6 L461.3,247.8M462.7,244.0 L459.7,245.1M462.9,241.7 L459.8,241.5M463.7,237.7 L460.6,238.0M463.2,234.4 L460.1,234.7M462.7,231.2 L459.6,231.7M461.9,228.3 L459.1,229.7M460.7,224.5 L457.6,225.0M459.3,221.5 L456.9,223.5M456.6,218.3 L455.6,221.3M454.5,217.3 L452.9,220.0M450.9,215.4 L449.4,218.2M448.9,214.5 L447.0,216.9M447.0,213.2 L444.8,215.4M444.3,209.7 L441.6,211.4M441.9,206.7 L439.8,209.1M439.3,203.5 L436.9,205.6M438.1,202.0 L435.4,203.6M435.1,198.9 L433.3,201.5M599.2,431.7 L596.6,433.4M597.5,429.7 L595.2,431.9M595.2,426.8 L592.8,428.9M592.6,423.6 L590.1,425.5M589.4,421.3 L587.4,423.7M587.5,420.0 L585.5,422.4M585.0,418.1 L583.1,420.7M582.5,416.2 L580.1,418.3M581.6,414.1 L578.6,414.8M580.6,411.6 L578.0,413.2M577.7,409.4 L576.9,412.5M574.3,408.6 L573.8,411.7M572.3,408.1 L571.7,411.2M568.8,406.6 L567.2,409.3M565.6,404.2 L563.9,406.9M562.8,401.5 L560.8,404.0M560.7,399.5 L558.9,402.0M559.3,397.9 L556.8,399.8M557.6,395.8 L555.1,397.7M556.2,394.0 L553.9,396.1M554.5,392.1 L552.1,394.2M552.9,390.9 L551.1,393.5M549.7,388.6 L548.1,391.3M547.6,387.5 L545.6,390.0M545.7,386.6 L544.8,389.6M544.1,385.8 L542.8,388.7M540.5,384.3 L539.8,387.4M538.2,383.6 L536.8,386.4M536.3,382.9 L535.9,386.1M533.3,381.4 L532.0,384.3M530.8,379.7 L529.4,382.5M528.1,377.9 L525.7,380.0M526.8,375.4 L523.9,376.7M525.3,372.5 L522.7,374.3M524.1,371.0 L521.8,373.2M522.4,368.9 L519.9,370.9M520.8,367.0 L518.3,368.8M519.3,365.1 L516.6,366.6M517.7,363.0 L515.5,365.3M516.4,361.5 L514.3,363.8M515.0,359.7 L512.3,361.2M513.2,357.5 L510.8,359.5M510.8,354.2 L507.8,355.1M509.2,350.9 L506.6,352.6M508.1,348.6 L505.2,350.0M506.9,346.5 L504.4,348.4M505.6,344.6 L503.2,346.6M503.6,341.6 L500.9,343.2M502.0,339.2 L499.4,341.0M500.2,336.5 L497.4,338.0" stroke-width="1"/>
<path d="M403.8,184.4 L406.1,192.0M402.4,185.4 L404.1,190.1M400.9,186.4 L405.7,191.2M398.2,188.2 L403.3,191.5M396.9,189.1 L398.5,193.5M394.1,190.8 L394.8,196.3M391.1,192.6 L393.3,195.2M388.8,194.0 L392.0,196.3M386.8,195.2 L388.4,198.6M385.4,196.0 L386.8,200.3M383.3,198.6 L385.9,202.7M381.8,200.5 L386.8,204.3M380.6,202.9 L386.1,205.4M432.8,196.6 L429.3,200.3M430.5,194.8 L428.7,198.9M427.8,192.7 L424.5,197.4M426.4,192.0 L424.2,197.4M425.1,191.3 L421.8,196.5M423.6,190.6 L420.7,195.0M421.4,188.9 L417.4,194.0M419.3,186.8 L418.1,189.8M417.2,184.8 L413.7,187.2M415.0,183.8 L412.6,187.7M413.0,182.8 L412.2,187.5M410.4,182.9 L412.3,187.5M407.5,183.6 L410.9,188.3M404.6,184.2 L406.1,188.0M380.1,204.1 L387.5,204.4M378.6,207.7 L383.4,208.7M377.2,209.6 L381.9,213.3M375.4,212.0 L377.4,214.2M374.2,213.5 L377.8,215.0M373.1,215.1 L378.1,222.5M371.9,216.7 L376.0,219.8M370.5,218.8 L377.3,222.0M368.8,221.6 L372.7,223.4M367.5,223.8 L374.2,225.1M366.2,227.1 L369.6,228.1M365.4,229.1 L372.3,231.1M365.0,232.7 L373.6,232.0M365.0,236.0 L370.6,235.8M365.2,239.0 L371.2,239.0M365.7,242.4 L370.4,241.6M366.1,245.5 L369.6,245.5M366.2,248.3 L375.4,247.8M366.2,252.4 L375.5,251.5M366.1,256.0 L372.4,255.8M365.9,258.1 L373.1,260.7M365.4,262.0 L372.6,264.5M365.1,265.5 L368.8,265.1M365.9,268.7 L369.2,266.4M366.7,272.2 L369.9,270.4M367.1,274.2 L371.3,274.5M367.5,276.0 L371.3,276.2M368.2,279.8 L377.0,279.1M369.0,283.8 L377.5,282.6M369.4,285.7 L376.0,285.6M370.1,289.1 L377.4,285.4M370.9,293.1 L375.5,290.5M371.4,296.5 L392.8,296.1M371.6,298.6 L385.4,299.2M371.8,300.4 L391.9,296.5M372.0,302.4 L382.5,300.5M372.2,304.7 L391.6,303.5M372.4,306.5 L382.8,305.4M372.5,308.9 L387.8,306.3M372.5,311.3 L382.0,311.9M372.5,312.8 L390.6,315.0M372.5,315.5 L387.6,317.4M372.5,318.1 L385.8,319.2M372.5,319.9 L386.7,317.7M372.5,322.6 L389.4,320.3M372.5,324.0 L390.7,321.3M372.5,325.6 L382.8,323.9M372.5,327.8 L380.7,328.0M372.5,329.4 L383.9,331.2M372.5,331.5 L393.0,330.9M372.6,333.6 L389.2,333.6M372.8,335.1 L381.8,333.2M373.0,337.6 L381.2,335.7M373.3,340.4 L395.1,335.8M373.4,341.7 L384.9,340.4M373.7,344.2 L391.9,343.3M373.8,346.6 L387.2,348.4M373.8,348.8 L383.5,348.6M373.8,351.3 L394.8,352.0M373.8,352.9 L389.2,353.1M373.8,355.2 L387.1,353.2M373.8,357.2 L390.4,354.7M373.8,359.6 L392.1,358.6M373.9,361.7 L387.3,359.0M374.2,364.5 L388.9,362.2M374.3,365.8 L384.8,363.7M374.6,368.5 L396.6,368.1M374.9,371.3 L397.7,369.9M375.1,373.3 L398.1,370.4M375.3,376.0 L391.1,376.9M375.6,378.4 L399.3,375.2M375.9,381.0 L398.5,377.1M376.0,382.5 L395.0,377.9M376.2,384.2 L394.3,382.7M376.2,385.5 L388.6,386.2M376.2,387.3 L396.1,386.3M376.2,389.7 L385.9,389.0M376.2,391.4 L385.5,391.1M376.2,392.9 L395.4,394.6M376.2,395.6 L398.0,399.3M376.2,397.4 L389.2,396.6M376.0,399.4 L392.5,401.6M375.8,401.1 L388.0,404.2M375.6,403.0 L395.8,408.4M375.3,404.7 L396.2,405.4M375.2,405.9 L391.7,405.8M375.1,408.0 L383.7,406.3M375.3,409.5 L390.7,408.7M375.7,412.2 L399.3,411.2M375.8,413.4 L383.8,411.4M376.1,415.3 L384.8,413.5M376.6,417.3 L388.4,412.0M377.0,418.9 L391.5,416.3M377.4,420.4 L390.9,414.1M378.0,422.5 L400.1,417.7M378.7,424.9 L388.5,422.0M379.0,427.3 L395.2,427.0M379.4,429.8 L391.8,428.5M379.5,431.3 L397.0,426.0M379.9,433.9 L395.3,434.2M380.1,436.2 L401.0,438.3M380.2,438.3 L396.4,437.1M380.2,439.8 L398.9,436.8M380.4,442.6 L394.9,442.1M380.4,444.4 L401.3,443.0M380.5,446.3 L391.0,447.5M380.7,448.0 L395.0,445.2M381.2,450.5 L404.1,451.5M381.2,452.6 L398.2,449.8M381.2,454.7 L393.7,454.7M381.2,457.1 L390.8,458.4M381.2,459.3 L397.5,458.6M381.2,462.0 L399.3,465.1M381.2,463.5 L391.9,465.6M381.1,465.3 L394.0,467.4M381.0,466.9 L403.6,471.7M380.9,468.6 L393.4,468.8M380.9,470.0 L404.5,469.2M380.8,471.3 L392.0,470.9M380.7,472.7 L400.6,473.9M380.6,475.2 L401.6,477.2M380.5,476.4 L403.9,475.8M380.5,477.7 L396.2,477.2M380.4,479.4 L389.1,479.9M380.3,480.9 L390.4,483.1M380.2,483.6 L404.0,482.0M380.1,485.9 L390.3,486.9M380.0,487.1 L390.8,488.3M380.1,488.6 L402.0,490.1M380.1,489.9 L396.6,491.8M380.2,491.7 L394.2,489.1M380.3,494.5 L390.4,493.2M380.4,495.9 L393.8,493.5M380.5,498.6 L391.4,496.4M380.8,501.3 L404.5,501.8M381.0,502.9 L403.8,498.2M381.3,504.8 L394.3,503.8M381.5,506.0 L401.1,502.0M381.9,508.5 L397.2,506.5M382.2,510.5 L398.5,507.7M382.6,513.0 L399.0,506.8M383.4,515.6 L394.1,513.7M384.2,518.2 L394.7,516.3M384.7,519.7 L392.8,516.3M385.5,522.4 L406.3,515.4M385.9,523.7 L405.5,514.0M386.7,526.0 L405.2,522.1M387.4,527.9 L396.5,525.3M388.2,529.9 L397.7,525.8M389.0,531.9 L403.5,525.0M389.7,533.5 L402.1,527.6M390.5,535.5 L412.9,530.7M391.4,537.9 L403.7,535.2M392.3,540.6 L401.4,536.7M392.9,542.5 L406.0,539.3M393.6,544.6 L416.6,539.8M393.6,545.4 L400.6,546.2M392.2,548.9 L399.3,552.5M390.9,552.5 L400.8,552.1M389.8,557.0 L396.5,556.7M388.6,561.6 L392.1,564.3M387.9,563.9 L394.1,565.9M390.4,567.9 L395.5,564.8M393.5,570.1 L398.7,562.4M396.1,571.6 L398.1,567.6M399.7,574.2 L402.7,565.0M403.1,576.5 L405.2,572.5M406.0,577.6 L409.2,569.1M409.9,579.0 L410.8,569.2M414.1,580.4 L417.5,576.5M416.2,583.0 L420.9,582.0M417.5,586.8 L423.6,587.1M417.5,591.7 L426.3,594.2M417.5,596.4 L421.8,595.5M417.4,600.2 L422.5,601.0M415.1,604.8 L423.5,601.9M419.7,607.3 L421.5,598.0M422.9,609.0 L424.3,604.0M425.2,610.1 L427.5,604.2M430.1,611.7 L432.4,608.0M432.4,612.5 L436.1,603.6M434.4,612.8 L437.3,601.6M436.2,613.1 L440.5,600.6M438.3,613.5 L439.2,594.8M439.8,613.7 L442.1,599.9M442.1,614.1 L446.0,598.5M444.1,614.4 L447.0,593.8M445.5,614.7 L448.6,597.6M447.1,614.9 L448.2,604.3M449.0,615.7 L456.1,596.9M450.6,616.5 L463.1,599.0M452.5,617.5 L456.3,609.7M454.1,618.5 L467.4,600.0M455.3,619.2 L465.0,597.5M457.1,620.3 L467.2,603.2M458.2,620.9 L467.6,604.8M460.0,621.7 L462.6,611.9M461.8,622.5 L466.9,613.6M462.8,622.9 L467.6,602.9M464.4,623.5 L472.7,601.1M466.2,624.2 L470.8,605.5M467.2,624.5 L471.9,605.9M468.5,624.9 L471.1,608.8M470.0,625.4 L474.5,616.9M472.1,626.1 L478.7,606.3M473.7,626.8 L480.2,615.4M474.9,627.5 L483.9,608.7M476.3,628.2 L481.6,614.5M477.4,628.7 L479.4,611.7M479.2,628.5 L477.6,615.9M480.3,628.3 L476.0,615.6M481.7,628.1 L480.0,615.9M483.8,627.7 L481.4,609.3M485.9,627.2 L481.8,613.0M487.4,626.8 L478.5,608.1M489.1,626.3 L479.9,605.4M490.9,626.3 L495.8,612.1M492.1,626.6 L496.9,617.1M493.7,627.1 L498.2,618.2M495.4,627.7 L500.1,616.7M497.5,628.8 L501.0,621.3M499.1,629.6 L504.6,611.0M501.2,630.5 L505.6,622.9M503.2,631.3 L507.9,616.5M504.6,631.8 L507.7,622.2M506.4,632.6 L514.6,610.6M507.3,633.2 L514.9,625.1M508.3,633.9 L518.6,621.0M510.1,635.1 L521.9,621.4M511.0,636.0 L523.1,625.2M512.7,637.7 L517.9,630.3M513.9,639.3 L528.4,636.9M514.3,641.4 L528.3,638.9M514.6,643.1 L523.0,641.7M514.9,644.6 L526.8,642.3M436.3,613.1 L439.5,601.9M437.7,613.4 L441.7,599.9M439.3,613.6 L443.8,598.2M440.3,613.8 L442.1,592.3M441.5,614.0 L443.3,597.9M443.2,614.3 L444.2,604.1M444.9,614.6 L446.7,599.3M446.7,614.9 L448.2,603.8M448.3,615.4 L453.1,603.2M449.9,616.2 L458.4,595.3M450.9,616.7 L456.1,604.7M452.1,617.3 L459.6,603.6M453.2,617.9 L463.2,598.6M454.7,618.8 L467.0,601.2M455.5,619.3 L461.3,607.8M456.3,619.8 L470.4,602.0M457.7,620.6 L463.9,610.8M458.8,621.3 L466.2,599.8M459.8,621.7 L467.1,599.6M460.7,622.0 L467.6,609.4M462.1,622.6 L468.1,600.8M463.2,623.0 L469.5,604.9M464.5,623.5 L467.9,612.3M465.8,624.0 L470.1,602.2M466.8,624.4 L470.2,610.2M467.7,624.6 L472.4,607.7M468.8,625.0 L472.7,611.5M470.1,625.4 L476.3,610.6M471.6,625.9 L475.2,614.8M515.0,645.0 L526.9,642.4M516.4,647.8 L522.3,643.9M517.2,649.3 L525.8,647.1M518.1,651.3 L528.4,646.8M519.0,653.2 L529.3,647.4M520.3,655.7 L523.7,651.2M523.0,657.5 L529.7,649.5M524.9,658.7 L529.7,651.2M526.7,658.8 L525.0,650.8M529.3,658.8 L527.3,645.4M531.8,657.8 L526.3,648.3M534.0,656.5 L530.0,648.0M536.2,655.3 L529.7,644.6M537.7,654.4 L534.8,647.3M540.4,652.9 L534.7,645.4M542.5,652.0 L540.7,645.4M544.3,651.3 L538.8,642.8M546.7,650.3 L542.7,645.1M548.4,649.7 L547.1,640.7M550.7,648.7 L545.6,639.0M553.5,647.7 L552.2,642.8M555.7,646.9 L553.8,641.8M558.0,645.4 L551.1,642.1M559.4,643.1 L551.5,637.9M561.0,640.5 L554.0,636.4M561.7,639.1 L554.4,635.2M562.8,636.9 L558.1,635.0M563.5,635.5 L557.9,633.8M565.1,632.9 L559.3,628.7M566.1,631.5 L559.3,626.3M568.0,629.5 L564.5,626.0M570.8,626.9 L566.7,619.4M572.4,625.7 L570.5,622.1M574.9,623.8 L572.6,620.1M577.4,622.5 L575.4,615.0M579.7,621.4 L577.6,615.6M582.9,619.1 L580.1,615.6M586.2,616.6 L582.0,613.0M589.1,614.4 L583.7,609.6M592.3,612.2 L589.2,607.0M595.3,610.2 L592.2,603.3M598.1,608.3 L594.0,603.3M601.3,605.7 L599.4,602.2M603.0,604.2 L596.2,598.7M604.7,602.6 L597.8,597.5M606.3,601.1 L603.0,595.2M609.1,598.4 L606.1,594.1M611.7,595.8 L607.8,592.2M613.1,594.4 L608.4,588.7M614.9,592.6 L611.9,588.4M616.9,590.6 L611.7,587.3M619.7,587.8 L616.2,584.4M621.3,586.2 L617.3,582.2M623.7,583.0 L615.2,579.3M625.6,580.3 L620.9,576.3M626.6,578.6 L619.3,575.8M627.5,577.0 L619.3,574.2M629.5,573.7 L622.8,567.7M631.2,571.0 L625.1,565.5M632.8,568.3 L629.1,566.3M633.8,566.6 L627.6,563.9M634.9,564.8 L629.6,559.5M636.7,561.7 L632.5,558.3M638.4,558.2 L634.1,554.5M639.4,556.3 L631.8,550.9M641.2,553.0 L634.5,549.4M642.2,551.3 L636.2,548.7M644.1,548.2 L635.0,545.1M645.0,546.6 L641.2,542.8" stroke-width="1"/>
<path d="M403.8,184.5 L402.3,185.8 L400.7,187.0 L399.2,188.3 L397.3,189.2 L395.8,190.5 L393.4,190.4 L392.0,192.0 L390.6,193.6 L388.7,194.3 L387.2,195.6 L384.8,195.7 L383.9,197.7 L382.4,199.1 L381.6,200.9 L380.8,202.7 L379.3,204.3 L378.8,206.3 L378.0,208.0 L377.5,210.1 L376.2,211.6 L374.3,212.7 L373.8,214.8 L371.8,215.9 L371.2,217.9 L369.6,219.2 L368.4,220.9 L368.4,223.2 L366.7,224.6 L366.0,226.4 L366.3,228.7 L365.5,230.4 L364.7,232.3 L365.6,234.3 L365.1,236.3 L365.4,238.3 L365.0,240.3 L366.3,242.2 L366.2,244.2 L366.9,246.2 L366.8,248.2 L366.0,250.2 L366.1,252.2 L365.8,254.2 L365.6,256.1 L365.2,258.1 L365.3,260.1 L365.5,262.2 L364.4,264.1 L365.5,266.0 L365.5,268.1 L366.0,270.0 L367.1,271.9 L367.0,273.9 L367.2,275.9 L367.8,277.8 L368.5,279.7 L368.0,281.9 L369.6,283.6 L368.7,285.8 L370.1,287.6 L370.6,289.5 L369.9,291.7 L371.3,293.4 L371.1,295.5 L371.6,297.5 L371.0,299.5 L371.3,301.5 L371.7,303.5 L372.9,305.4 L372.1,307.5 L372.9,309.4 L373.1,311.4 L373.1,313.4 L372.3,315.4 L372.3,317.4 L372.5,319.4 L372.9,321.4 L372.0,323.4 L372.8,325.4 L372.9,327.4 L373.0,329.4 L371.9,331.4 L373.2,333.4 L372.2,335.5 L372.8,337.4 L373.3,339.4 L374.0,341.3 L373.4,343.4 L374.3,345.3 L373.8,347.4 L373.5,349.4 L373.5,351.4 L373.3,353.4 L373.2,355.4 L373.3,357.4 L374.0,359.4 L374.6,361.3 L373.6,363.4 L373.7,365.4 L375.2,367.3 L374.7,369.3 L374.7,371.3 L374.7,373.3 L375.4,375.3 L375.9,377.2 L375.6,379.3 L375.8,381.3 L375.5,383.3 L376.8,385.2 L375.6,387.2 L376.2,389.2 L376.7,391.2 L375.7,393.2 L376.6,395.2 L376.9,397.3 L376.2,399.3 L376.2,401.3 L375.0,403.1 L375.2,405.2 L374.6,407.1 L375.7,409.1 L375.2,411.2 L375.7,413.1 L376.8,415.0 L377.0,416.9 L377.7,418.8 L377.5,420.9 L378.1,422.8 L379.0,424.7 L378.9,426.7 L378.9,428.7 L379.3,430.7 L379.2,432.7 L379.8,434.7 L380.8,436.6 L380.8,438.6 L380.4,440.6 L380.4,442.6 L380.2,444.6 L380.0,446.7 L380.6,448.7 L381.6,450.5 L381.8,452.5 L381.1,454.5 L381.7,456.5 L381.6,458.5 L381.5,460.5 L381.5,462.6 L381.5,464.6 L380.8,466.5 L381.2,468.6 L380.5,470.5 L380.7,472.5 L381.0,474.6 L380.8,476.5 L380.1,478.5 L381.0,480.6 L380.4,482.5 L380.3,484.5 L379.4,486.5 L380.1,488.5 L379.8,490.5 L380.5,492.5 L380.3,494.5 L380.9,496.5 L380.7,498.5 L381.1,500.4 L380.8,502.5 L381.5,504.4 L381.9,506.4 L382.3,508.3 L382.0,510.4 L382.9,512.3 L383.5,514.1 L383.9,516.1 L384.8,517.9 L385.4,519.8 L385.4,521.9 L385.9,523.8 L386.1,525.9 L387.7,527.4 L388.6,529.2 L388.7,531.3 L389.8,533.1 L390.6,534.9 L391.3,536.8 L391.2,538.9 L392.7,540.6 L393.0,542.5 L393.8,544.4 L393.1,546.3 L392.6,548.3 L392.1,550.2 L391.3,552.0 L390.9,554.0 L389.5,555.7 L389.2,557.6 L389.1,559.7 L388.8,561.7 L387.6,563.4 L388.0,565.2 L389.4,566.6 L390.2,568.6 L392.2,569.4 L393.8,570.7 L395.3,571.9 L397.1,572.9 L398.8,573.8 L400.3,575.2 L402.0,576.4 L403.8,577.5 L405.8,577.6 L407.6,578.5 L409.6,578.8 L411.6,579.3 L413.3,580.3 L415.3,580.9 L415.5,583.2 L416.8,584.7 L417.2,586.6 L417.4,588.6 L417.0,590.6 L418.0,592.6 L417.3,594.6 L416.9,596.6 L417.7,598.6 L416.7,600.3 L416.4,602.3 L415.3,604.0 L415.9,605.3 L417.9,605.7 L419.6,606.8 L421.2,608.2 L423.2,608.6 L424.9,609.7 L426.6,610.7 L428.4,611.7 L430.5,611.7 L432.4,612.4 L434.5,612.2 L436.4,612.5 L438.3,613.3 L440.2,614.0 L442.3,613.6 L444.1,615.1 L446.1,615.3 L448.1,615.2 L450.0,616.0 L451.4,617.5 L453.5,617.9 L455.4,618.6 L456.8,620.3 L458.5,621.2 L460.3,622.3 L462.2,622.9 L464.4,622.8 L465.9,624.2 L468.1,624.1 L470.0,624.8 L471.7,625.9 L473.4,627.1 L475.6,627.1 L477.1,628.6 L479.1,628.6 L481.1,628.4 L482.9,627.2 L485.0,627.5 L487.0,627.2 L488.8,626.4 L490.6,626.7 L492.7,626.6 L494.5,627.4 L496.2,628.4 L498.3,628.7 L500.1,629.6 L501.5,631.3 L503.7,631.4 L505.4,632.5 L507.6,632.7 L509.1,633.9 L510.2,635.7 L511.7,637.1 L512.9,638.6 L514.7,640.0 L514.1,642.1 L515.0,644.0 L515.4,645.9 L516.5,647.6 L517.4,649.4 L518.4,651.2 L518.4,653.3 L520.1,654.8 L521.0,656.5 L522.9,657.3 L524.4,658.6 L526.4,659.0 L528.4,658.7 L530.4,658.6 L532.2,657.8 L533.7,656.3 L535.5,655.5 L537.7,655.2 L539.2,653.9 L540.8,652.7 L542.5,651.4 L544.3,650.7 L546.4,650.4 L548.5,650.3 L550.0,648.6 L552.0,648.3 L553.8,647.5 L555.6,646.6 L557.4,646.0 L558.6,644.4 L559.1,642.4 L560.8,641.1 L561.8,639.3 L562.1,637.2 L563.8,635.9 L564.7,634.1 L565.2,632.0 L567.2,631.1 L567.9,629.0 L569.4,627.7 L571.2,626.7 L572.9,625.7 L574.1,623.9 L575.8,622.7 L578.1,622.8 L579.6,621.5 L581.2,620.2 L582.9,619.1 L584.6,618.1 L586.4,617.1 L587.6,615.4 L589.0,613.9 L591.2,613.6 L592.8,612.3 L594.0,610.5 L595.6,609.4 L597.4,608.5 L599.6,608.1 L600.5,606.1 L601.8,604.4 L603.2,603.1 L604.9,602.0 L607.0,601.3 L607.7,599.1 L609.7,598.3 L610.7,596.5 L611.8,594.8 L613.5,593.6 L615.5,592.7 L616.7,591.2 L617.5,589.1 L619.7,588.5 L620.7,586.6 L622.1,585.3 L623.6,583.9 L624.3,581.9 L626.1,580.7 L627.1,578.9 L627.8,577.0 L629.2,575.5 L630.2,573.8 L630.6,571.7 L631.4,569.9 L632.3,568.1 L634.2,566.9 L634.9,564.9 L636.1,563.3 L636.7,561.4 L637.7,559.6 L638.0,557.6 L639.6,556.1 L641.0,554.6 L641.2,552.4 L642.9,551.1 L643.4,549.1 L644.5,547.4 L645.1,545.4 L646.5,544.0 L647.5,542.2 L649.0,540.8 L649.8,538.9 L651.2,537.5 L651.8,535.5 L653.0,533.9 L654.4,532.3 L655.2,530.5 L655.9,528.6 L656.3,526.6 L657.9,525.2 L658.5,523.2 L659.8,521.6 L661.6,520.5 L661.7,518.2 L663.2,516.7 L663.9,514.8 L664.0,512.7 L665.2,511.0 L665.1,508.8 L666.3,507.2 L667.0,505.3 L666.7,503.2 L668.1,501.4 L667.6,499.3 L668.9,497.5 L669.1,495.5 L668.4,493.3 L669.2,491.4 L670.2,489.6 L670.5,487.5 L669.3,485.5 L669.8,483.5 L669.6,481.5 L670.5,479.5 L668.8,478.5 L667.0,477.5 L665.6,476.3 L664.1,475.0 L662.4,473.9 L661.8,471.9 L660.9,470.1 L660.0,468.2 L657.8,467.8 L656.2,466.5 L654.9,464.9 L654.2,463.0 L652.5,463.2 L650.5,463.2 L648.5,463.7 L646.5,463.7 L644.5,463.5 L642.6,462.6 L641.1,461.7 L639.6,460.4 L637.8,459.4 L636.4,458.0 L634.2,457.5 L633.2,455.7 L632.0,454.0 L632.7,451.9 L631.7,450.0 L630.8,448.2 L630.0,446.8 L628.6,445.4 L626.9,444.2 L626.1,442.4 L625.0,440.8 L624.0,439.0 L622.7,437.5 L621.5,435.9 L619.7,434.7 L619.2,432.4 L617.1,432.6 L615.1,433.1 L613.1,433.8 L612.1,435.7 L611.1,437.2 L609.3,437.5 L607.3,436.8 L605.1,438.1 L603.9,436.1 L601.9,435.3 L600.7,433.6 L599.3,432.2 L598.2,430.5 L596.4,429.4 L596.1,427.1 L594.2,426.0 L593.4,424.1 L591.6,423.2 L589.9,422.1 L588.7,420.3 L587.1,419.2 L585.6,417.8 L583.8,416.8 L582.8,415.4 L581.7,413.8 L580.2,412.2 L580.2,410.0 L578.2,409.3 L576.3,409.0 L574.4,408.3 L572.3,408.4 L570.3,407.9 L569.0,406.2 L567.4,405.1 L565.4,404.4 L563.6,403.3 L562.5,401.6 L561.3,399.9 L559.3,399.0 L559.1,396.6 L557.8,395.1 L555.8,394.1 L554.9,392.3 L553.6,390.6 L551.6,390.0 L549.6,389.3 L548.2,387.9 L546.5,386.8 L544.9,385.6 L543.1,384.6 L540.8,385.0 L539.1,383.8 L537.0,383.8 L535.5,382.0 L533.8,381.3 L532.3,379.9 L530.3,379.2 L528.9,377.7 L527.6,376.7 L526.8,374.9 L526.0,373.0 L525.0,371.2 L523.8,369.7 L521.5,368.9 L521.1,366.7 L519.5,365.4 L518.4,363.7 L517.0,362.3 L516.3,360.3 L514.8,359.0 L513.7,357.2 L512.0,356.0 L510.4,354.6 L509.9,352.6 L508.7,351.0 L508.6,348.8 L507.9,346.9 L506.2,345.6 L505.1,343.9 L503.9,342.3 L503.0,340.5 L501.6,339.0 L500.4,337.4 L499.1,335.9 L498.7,333.8 L497.4,332.2 L495.8,330.8 L495.4,328.7 L494.5,327.0 L493.1,325.4 L492.3,323.6 L490.4,322.5 L489.3,320.7 L489.2,318.6 L488.7,316.6 L488.0,314.7 L487.2,312.9 L486.8,311.0 L485.7,309.2 L484.9,307.4 L484.7,305.4 L484.3,303.4 L482.8,301.8 L483.0,299.6 L482.1,297.8 L481.2,296.0 L480.3,294.1 L480.0,292.1 L478.8,290.4 L478.2,288.5 L476.9,286.9 L476.5,284.9 L475.5,283.1 L475.2,281.1 L474.5,279.2 L474.4,277.2 L474.3,275.2 L473.4,273.3 L473.3,271.3 L472.6,269.4 L472.6,267.4 L472.3,265.4 L472.3,263.3 L470.9,261.7 L470.9,259.6 L470.6,257.5 L469.8,255.7 L468.7,253.9 L467.7,252.2 L466.3,250.7 L465.8,248.7 L465.0,246.8 L463.2,245.6 L462.4,243.7 L463.6,241.8 L463.9,239.9 L464.2,237.8 L463.7,235.8 L462.6,233.9 L462.2,232.0 L462.3,229.9 L462.2,227.9 L461.3,226.1 L460.8,224.1 L460.1,222.2 L459.3,220.3 L457.6,219.1 L455.8,218.4 L454.1,217.4 L452.7,215.7 L450.6,215.3 L449.0,214.0 L447.0,213.6 L446.0,211.7 L444.2,210.6 L443.1,208.9 L442.6,206.8 L441.1,205.4 L439.2,204.3 L438.5,202.4 L437.2,200.8 L435.8,199.4 L434.0,198.3 L432.5,197.1 L431.3,195.4 L429.4,194.7 L428.1,193.1 L426.7,191.5 L424.5,191.5 L422.9,190.1 L421.8,188.4 L419.5,187.9 L419.0,185.6 L417.0,184.9 L415.3,183.8 L413.2,183.5 L411.6,182.6 L409.5,182.7 L407.6,183.2 L405.6,183.6 L403.8,184.5Z" stroke-width="1.3"/>
<clipPath id="islc"><path d="M403.5,183.2 L403.4,183.3 L403.3,183.3 L403.2,183.4 L403.1,183.4 L396.8,187.7 L384.4,195.2 L384.3,195.3 L384.2,195.4 L384.1,195.4 L384.0,195.5 L380.3,200.5 L380.2,200.6 L380.2,200.7 L380.1,200.8 L377.7,206.9 L370.3,216.8 L370.2,216.9 L366.5,223.1 L366.4,223.2 L366.4,223.3 L363.9,229.6 L363.8,229.7 L363.8,229.8 L363.8,229.9 L363.8,230.0 L363.8,237.5 L363.8,237.7 L365.1,246.3 L365.1,254.9 L363.8,264.9 L363.8,265.0 L363.8,265.1 L363.8,265.2 L363.8,265.3 L365.1,270.3 L370.1,295.2 L371.3,307.6 L371.3,332.5 L371.3,332.6 L372.6,345.1 L372.6,360.0 L372.6,360.1 L375.1,385.1 L375.1,397.4 L373.8,407.4 L373.8,407.5 L373.8,407.6 L373.8,407.7 L375.1,416.4 L375.1,416.6 L377.6,425.2 L378.8,435.1 L379.4,447.6 L379.4,447.7 L379.4,447.8 L380.1,450.2 L380.1,462.5 L379.4,474.9 L379.4,474.9 L378.8,487.4 L378.8,487.6 L379.4,500.1 L379.4,500.2 L381.3,512.7 L381.4,512.8 L385.1,525.3 L385.1,525.4 L390.1,537.9 L392.5,545.0 L390.1,550.8 L390.1,551.0 L387.6,560.9 L386.4,564.6 L386.3,564.7 L386.3,564.9 L386.3,565.0 L386.3,565.1 L386.3,565.2 L386.3,565.3 L386.4,565.4 L386.4,565.6 L386.5,565.7 L386.6,565.8 L386.7,565.8 L390.4,569.6 L390.5,569.7 L390.6,569.8 L396.8,573.5 L401.8,577.2 L401.9,577.3 L402.0,577.3 L402.1,577.4 L408.3,579.9 L408.5,579.9 L413.1,581.1 L415.0,583.2 L416.3,586.2 L416.3,599.7 L413.9,604.5 L413.9,604.6 L413.8,604.7 L413.8,604.8 L413.8,604.9 L413.8,605.0 L413.8,605.2 L413.8,605.3 L413.9,605.4 L413.9,605.5 L414.0,605.6 L414.0,605.7 L414.1,605.8 L414.2,605.9 L414.3,605.9 L414.4,606.0 L414.5,606.1 L424.5,611.1 L424.6,611.1 L432.1,613.6 L432.2,613.7 L432.3,613.7 L447.1,616.2 L451.9,618.6 L458.1,622.3 L458.2,622.3 L458.3,622.4 L464.6,624.9 L464.6,624.9 L472.0,627.4 L477.0,629.8 L477.1,629.9 L477.2,629.9 L477.3,629.9 L477.4,629.9 L477.6,629.9 L477.7,629.9 L485.2,628.7 L485.3,628.6 L490.0,627.3 L494.6,628.6 L499.5,631.1 L499.6,631.1 L505.7,633.6 L509.2,635.9 L512.6,639.3 L513.8,645.2 L513.8,645.3 L513.9,645.4 L513.9,645.5 L516.4,650.5 L518.9,656.0 L519.0,656.1 L519.0,656.2 L519.1,656.3 L519.2,656.4 L519.3,656.4 L519.3,656.5 L524.3,659.8 L524.4,659.8 L524.6,659.9 L524.7,659.9 L524.8,659.9 L524.9,659.9 L525.0,660.0 L530.0,660.0 L530.1,659.9 L530.2,659.9 L530.4,659.9 L530.5,659.9 L530.6,659.8 L535.6,657.1 L535.6,657.0 L540.5,654.1 L551.7,649.6 L557.9,647.4 L558.0,647.3 L558.1,647.3 L558.2,647.2 L558.3,647.1 L558.4,647.1 L558.5,647.0 L558.5,646.9 L562.3,640.6 L562.3,640.5 L564.8,635.6 L567.2,632.0 L570.8,628.4 L575.6,624.8 L580.5,622.3 L580.6,622.3 L580.7,622.2 L590.7,614.7 L600.7,608.0 L600.7,607.9 L600.8,607.9 L608.3,600.9 L608.3,600.8 L622.1,587.1 L622.2,587.0 L626.0,582.0 L626.0,581.9 L637.3,563.1 L637.3,563.0 L641.1,555.6 L648.5,543.1 L653.5,535.7 L653.6,535.5 L658.5,525.6 L662.2,520.7 L662.3,520.6 L662.3,520.5 L662.4,520.4 L667.4,507.9 L667.4,507.8 L667.4,507.7 L671.2,489.0 L671.2,488.9 L671.2,488.8 L671.2,478.8 L671.2,478.6 L671.2,478.5 L671.2,478.4 L671.1,478.3 L671.1,478.2 L671.0,478.1 L670.9,478.0 L670.9,477.9 L670.8,477.8 L670.7,477.8 L670.6,477.7 L670.5,477.7 L670.4,477.6 L666.9,476.5 L663.5,473.0 L661.1,468.2 L661.0,468.1 L660.9,468.0 L660.9,467.9 L660.8,467.8 L660.7,467.8 L657.1,465.4 L654.7,461.8 L654.7,461.7 L654.6,461.7 L654.5,461.6 L654.4,461.5 L654.3,461.4 L654.2,461.4 L654.1,461.4 L654.0,461.3 L653.9,461.3 L653.7,461.3 L653.6,461.3 L653.5,461.3 L647.5,462.5 L641.8,461.4 L637.0,457.8 L633.6,454.4 L632.4,447.3 L632.4,447.2 L632.4,447.1 L632.3,447.0 L632.3,446.9 L632.2,446.8 L632.1,446.7 L632.1,446.6 L632.0,446.5 L627.2,442.9 L623.5,436.9 L623.5,436.8 L619.7,431.8 L619.6,431.7 L619.6,431.6 L619.5,431.5 L619.4,431.5 L619.3,431.4 L619.2,431.4 L619.0,431.3 L618.9,431.3 L618.8,431.3 L618.7,431.3 L618.6,431.3 L618.5,431.3 L613.5,432.6 L613.4,432.6 L613.3,432.7 L613.2,432.7 L613.1,432.8 L613.0,432.8 L612.9,432.9 L612.8,433.0 L612.8,433.1 L610.6,436.3 L605.5,436.3 L599.6,430.4 L593.4,422.7 L593.4,422.7 L593.3,422.6 L593.2,422.5 L588.2,419.0 L583.5,415.5 L581.1,409.6 L581.1,409.5 L581.0,409.4 L580.9,409.3 L580.9,409.2 L580.8,409.1 L580.7,409.0 L580.6,409.0 L580.5,408.9 L580.4,408.9 L580.3,408.8 L570.5,406.4 L565.8,402.8 L560.9,397.9 L555.9,391.8 L555.9,391.7 L555.8,391.6 L555.7,391.5 L550.7,387.8 L550.6,387.7 L550.5,387.7 L543.0,383.9 L542.9,383.9 L535.5,381.4 L528.5,376.7 L527.4,373.4 L527.4,373.3 L527.3,373.2 L527.2,373.1 L527.2,373.0 L512.3,354.3 L508.6,347.0 L508.5,346.8 L491.1,320.7 L488.6,314.6 L483.6,299.6 L483.6,299.6 L478.6,287.1 L476.2,279.7 L473.7,264.8 L473.7,264.7 L473.6,264.6 L471.1,257.1 L471.1,257.0 L467.3,249.5 L467.3,249.4 L463.8,243.5 L464.9,237.7 L464.9,237.6 L464.9,237.5 L464.9,237.4 L464.9,237.3 L463.7,229.8 L463.7,229.7 L463.6,229.6 L461.1,222.1 L461.1,222.0 L461.1,221.9 L461.0,221.8 L458.5,218.1 L458.4,218.0 L458.3,217.9 L458.2,217.8 L458.1,217.7 L458.0,217.7 L448.3,212.8 L438.4,200.5 L438.3,200.4 L433.3,195.4 L433.2,195.3 L428.2,191.5 L428.1,191.5 L428.0,191.4 L423.2,189.0 L418.3,184.2 L418.3,184.1 L418.1,184.0 L418.0,183.9 L413.0,181.4 L412.9,181.4 L412.8,181.3 L412.7,181.3 L412.6,181.3 L412.5,181.3 L412.4,181.3 L412.2,181.3 L403.5,183.2Z"/></clipPath>
<g clip-path="url(#islc)">
<polyline points="391.25,196.25 397.50,201.25 407.50,201.88 415.00,200.00 422.50,196.25 426.25,195.00" stroke-width="1"/>
<polyline points="397.50,201.25 400.00,208.75 401.25,217.50 397.50,225.00 400.00,232.50 405.00,237.50 410.00,240.00 412.50,247.50 415.00,252.50 416.25,256.25 422.50,255.00 426.25,257.50 430.00,265.00 435.00,270.00 440.00,272.50 445.00,270.00 450.00,276.25 455.00,277.50 460.00,278.75" stroke-width="1"/>
<polyline points="423.75,198.75 420.00,207.50 417.50,217.50 417.50,230.00 420.00,235.00 427.50,238.75 430.00,242.50 431.25,250.00 435.00,257.50 440.00,262.50 445.00,270.00" stroke-width="1"/>
<polyline points="437.50,205.00 435.00,215.00 432.50,225.00 433.75,233.75 431.25,240.00 430.00,242.50" stroke-width="1"/>
<polyline points="430.00,203.75 422.50,216.25 421.25,222.50 422.50,230.00 425.00,237.50" stroke-width="1"/>
<polyline points="450.00,217.50 448.75,225.00 448.75,232.50 441.25,240.00 433.75,242.50" stroke-width="1"/>
<polyline points="457.50,221.25 452.50,227.50 452.50,235.00 456.25,240.00 460.00,242.50" stroke-width="1"/>
<polyline points="455.00,240.00 452.50,250.00 450.00,257.50 450.00,262.50 453.75,270.00 455.00,277.50" stroke-width="1"/>
<polyline points="372.50,241.25 378.75,238.75 385.00,237.50 390.00,238.75 393.75,242.50 397.50,246.25 402.50,251.25 407.50,253.75 412.50,255.00 416.25,256.25" stroke-width="1"/>
<polyline points="373.75,225.00 380.00,222.50 385.00,221.25 388.75,226.25 392.50,230.00 400.00,235.00 405.00,237.50" stroke-width="1"/>
<polyline points="385.00,221.25 386.25,215.00 385.00,210.00 386.25,207.50 383.75,201.25" stroke-width="1"/>
<polyline points="367.50,252.50 376.25,253.75 378.75,261.25 372.50,265.00 368.75,267.50" stroke-width="1"/>
<polyline points="392.50,193.75 397.50,191.25 401.25,187.50 405.00,186.25" stroke-width="1"/>
<polyline points="401.25,197.50 405.00,193.75 408.75,190.00 412.50,186.25" stroke-width="1"/>
<polyline points="407.50,200.00 411.25,195.00 415.00,191.25 417.50,187.50" stroke-width="1"/>
<polyline points="415.00,198.75 418.75,193.75 422.50,191.25" stroke-width="1"/>
<polyline points="385.00,200.00 390.00,196.25 393.75,195.00" stroke-width="1"/>
<polyline points="378.75,208.75 385.00,206.25" stroke-width="1"/>
<polyline points="375.00,215.00 382.50,212.50" stroke-width="1"/>
<polyline points="372.50,272.50 385.00,272.50 397.50,273.75 407.50,277.50 415.00,282.50 421.25,286.25 425.00,285.00 430.00,287.50 435.00,292.50 441.25,295.00 447.50,291.25 452.50,282.50 456.25,278.75" stroke-width="1"/>
<polyline points="373.75,282.50 382.50,283.75 390.00,281.25 397.50,280.00 407.50,282.50 416.25,287.50 421.25,286.25" stroke-width="1"/>
<polyline points="375.00,295.00 385.00,292.50 392.50,292.50 397.50,293.75 407.50,292.50 413.75,290.00 421.25,287.50" stroke-width="1"/>
<polyline points="372.50,300.00 385.00,300.00 392.50,303.75 400.00,301.25 410.00,300.00 418.75,302.50 426.25,305.00 433.75,307.50 437.50,300.00 440.00,295.00" stroke-width="1"/>
<polyline points="433.75,307.50 435.00,317.50 432.50,323.75 431.25,336.25 430.00,347.50 431.25,357.50 430.00,370.00" stroke-width="1"/>
<polyline points="376.25,311.25 385.00,307.50 391.25,305.00" stroke-width="1"/>
<polyline points="378.75,326.25 386.25,327.50 395.00,328.75 406.25,327.50 412.50,332.50 417.50,336.25 427.50,337.50 430.62,337.50" stroke-width="1"/>
<polyline points="378.75,336.25 388.75,337.50 398.75,338.75 403.75,342.50 403.75,347.50 410.00,351.25 418.75,352.50 427.50,351.25 430.62,350.00" stroke-width="1"/>
<polyline points="378.75,341.25 391.25,342.50 402.50,343.75" stroke-width="1"/>
<polyline points="378.75,347.50 391.25,347.50 403.75,347.50" stroke-width="1"/>
<polyline points="381.25,357.50 391.25,362.50 401.25,365.00 410.00,362.50 415.00,365.00 420.00,365.00 430.62,365.00" stroke-width="1"/>
<polyline points="453.75,277.50 461.25,280.00 467.50,277.50 471.88,276.25" stroke-width="1"/>
<polyline points="448.75,290.00 455.00,293.75 461.25,297.50 465.00,300.00 471.25,295.00 476.88,295.00" stroke-width="1"/>
<polyline points="465.00,283.75 470.00,282.50 474.38,285.00" stroke-width="1"/>
<polyline points="433.75,323.75 442.50,325.00 450.00,325.00 455.00,326.25 460.00,320.00 461.25,317.50 471.25,316.25 477.50,315.00 480.00,317.50 483.75,322.50 488.75,322.50" stroke-width="1"/>
<polyline points="477.50,315.00 478.75,305.00 477.50,302.50 481.88,300.00" stroke-width="1"/>
<polyline points="461.25,242.50 466.25,245.00 467.50,251.25" stroke-width="1"/>
<polyline points="463.75,255.00 470.00,256.25" stroke-width="1"/>
<polyline points="467.50,267.50 472.50,266.25" stroke-width="1"/>
<polyline points="430.00,360.00 432.50,367.50 433.75,375.00 435.00,385.00 432.50,392.50 427.50,396.25 420.00,400.00 410.00,403.75 401.25,406.25 397.50,410.00 397.50,415.00 392.50,418.75 385.00,420.00 378.75,420.00" stroke-width="1"/>
<polyline points="450.00,407.50 447.50,412.50 447.50,416.25 443.75,421.25 437.50,422.50 427.50,423.75 417.50,425.00 412.50,426.25 407.50,428.75 397.50,431.25 390.00,430.00 385.00,425.00 380.00,425.00" stroke-width="1"/>
<polyline points="441.25,423.75 441.25,435.00 437.50,445.00 433.75,450.00" stroke-width="1"/>
<polyline points="382.50,366.25 391.25,368.75 397.50,370.00 403.75,368.75 407.50,371.25 412.50,370.00 418.75,372.50 425.00,372.50 432.50,372.50" stroke-width="1"/>
<polyline points="382.50,373.75 393.75,375.00 397.50,378.75 406.25,376.25 415.00,375.00 420.00,376.25 427.50,378.75 433.75,380.00" stroke-width="1"/>
<polyline points="382.50,381.25 392.50,380.00 397.50,378.75" stroke-width="1"/>
<polyline points="382.50,387.50 392.50,385.00 395.00,381.25" stroke-width="1"/>
<polyline points="382.50,392.50 390.00,390.00 395.00,383.75" stroke-width="1"/>
<polyline points="385.00,398.75 387.50,395.00" stroke-width="1"/>
<polyline points="377.50,415.00 385.00,413.75 390.00,415.00" stroke-width="1"/>
<polyline points="386.25,418.75 392.50,416.25 396.25,418.75" stroke-width="1"/>
<polyline points="385.00,430.00 393.75,432.50 397.50,431.25" stroke-width="1"/>
<polyline points="385.00,436.25 397.50,437.50 407.50,441.25 412.50,442.50 420.00,442.50 425.00,440.00 428.75,442.50 432.50,447.50" stroke-width="1"/>
<polyline points="385.00,445.00 395.00,447.50 402.50,450.00 410.00,451.25 417.50,448.75 420.00,447.50 421.25,455.00 420.00,460.00" stroke-width="1"/>
<polyline points="385.00,451.25 392.50,450.00 397.50,452.50" stroke-width="1"/>
<polyline points="385.00,457.50 397.50,455.00 402.50,457.50" stroke-width="1"/>
<polyline points="435.00,373.75 442.50,373.75 447.50,377.50 448.75,385.00 455.00,385.00 453.75,392.50 452.50,402.50 450.00,407.50 455.00,411.25 462.50,413.75 468.75,412.50 476.25,408.75 483.75,406.25 487.50,405.00" stroke-width="1"/>
<polyline points="487.50,405.00 486.25,395.00 490.00,391.25 495.00,385.00 496.25,377.50 495.00,375.00 497.50,372.50 498.75,367.50 495.00,362.50 492.50,352.50 493.75,345.00 496.25,342.50 500.00,342.50 498.75,332.50" stroke-width="1"/>
<polyline points="497.50,375.00 502.50,372.50 507.50,370.00 512.50,371.25 517.50,372.50" stroke-width="1"/>
<polyline points="497.50,377.50 502.50,377.50 511.25,380.00 517.50,382.50 522.50,382.50 527.50,382.50" stroke-width="1"/>
<polyline points="487.50,405.00 496.25,406.25 505.00,407.50 515.00,406.25 525.00,405.00 528.75,401.25 526.25,395.00 527.50,388.75 530.00,386.25" stroke-width="1"/>
<polyline points="500.00,342.50 501.25,355.00 500.00,362.50 500.00,370.00" stroke-width="1"/>
<polyline points="502.50,355.00 507.50,351.25" stroke-width="1"/>
<polyline points="510.00,361.25 511.25,367.50" stroke-width="1"/>
<polyline points="520.00,406.25 530.00,405.00 540.00,407.50 550.00,411.25 557.50,411.25 562.50,408.75 567.50,408.75" stroke-width="1"/>
<polyline points="530.00,405.00 532.50,410.00 533.75,417.50 536.25,423.75 541.25,427.50 542.50,431.25 550.00,433.75 551.25,436.25 555.00,431.25 560.00,428.75 562.50,425.00 567.50,422.50 567.50,415.00 568.75,410.00" stroke-width="1"/>
<polyline points="562.50,425.00 563.75,432.50 567.50,435.00 572.50,437.50 575.00,440.00 572.50,447.50 575.00,455.00 578.75,460.00 580.00,470.00" stroke-width="1"/>
<polyline points="563.75,432.50 570.00,430.00 577.50,425.00 582.50,422.50" stroke-width="1"/>
<polyline points="567.50,435.00 575.00,432.50 582.50,430.00 587.50,427.50" stroke-width="1"/>
<polyline points="575.00,440.00 580.00,440.00 587.50,437.50 592.50,435.00 595.00,432.50" stroke-width="1"/>
<polyline points="577.50,445.00 582.50,448.75 587.50,445.00 595.00,442.50 602.50,440.00 610.00,440.00 612.50,445.00 612.50,452.50 607.50,457.50 600.00,460.00 595.00,465.00 590.00,470.00" stroke-width="1"/>
<polyline points="590.00,428.75 591.25,437.50" stroke-width="1"/>
<polyline points="580.00,457.50 587.50,460.00 592.50,462.50 596.25,467.50" stroke-width="1"/>
<polyline points="600.00,460.00 607.50,462.50 615.00,465.00 620.00,463.75" stroke-width="1"/>
<polyline points="612.50,445.00 617.50,442.50 620.00,441.25" stroke-width="1"/>
<polyline points="523.00,369.69 516.50,406.51" stroke-width="1"/>
<polyline points="526.50,374.50 520.00,406.25" stroke-width="1"/>
<polyline points="530.00,379.17 523.50,405.81" stroke-width="1"/>
<polyline points="533.50,381.50 527.00,405.38" stroke-width="1"/>
<polyline points="537.00,383.17 530.50,405.12" stroke-width="1"/>
<polyline points="540.50,384.33 534.00,406.00" stroke-width="1"/>
<polyline points="544.00,385.75 537.50,406.88" stroke-width="1"/>
<polyline points="547.50,387.50 541.00,407.88" stroke-width="1"/>
<polyline points="551.00,389.50 544.50,409.19" stroke-width="1"/>
<polyline points="554.50,392.12 548.00,410.50" stroke-width="1"/>
<polyline points="558.00,396.25 551.50,411.25" stroke-width="1"/>
<polyline points="561.50,400.25 555.00,411.25" stroke-width="1"/>
<polyline points="580.00,441.25 590.00,440.00 595.00,437.50" stroke-width="1"/>
<polyline points="580.00,448.75 586.25,448.75 592.50,442.50 596.25,438.75" stroke-width="1"/>
<polyline points="580.00,455.00 585.00,457.50 587.50,462.50 592.50,467.50 597.50,472.50 601.25,477.50 607.50,483.75 611.25,486.25 616.25,483.75 622.50,483.75 627.50,485.00 632.50,481.25 633.75,475.00 637.50,472.50 641.25,470.00 645.00,467.50" stroke-width="1"/>
<polyline points="597.50,466.25 605.00,463.75 611.25,463.75 617.50,467.50 617.50,471.25 623.75,470.00 632.50,467.50 635.00,462.50" stroke-width="1"/>
<polyline points="605.00,463.75 611.25,457.50 613.75,451.25 612.50,445.00 616.25,446.25 623.75,447.50 627.50,448.75" stroke-width="1"/>
<polyline points="617.50,467.50 622.50,462.50 627.50,460.00 632.50,458.75" stroke-width="1"/>
<polyline points="625.00,457.50 625.00,450.00" stroke-width="1"/>
<polyline points="580.00,472.50 583.75,478.75 588.75,485.00 592.50,495.00 596.25,501.25 601.25,507.50 602.50,513.75 605.00,520.00" stroke-width="1"/>
<polyline points="596.25,501.25 605.00,502.50 610.00,507.50 616.25,512.50 622.50,517.50 627.50,520.00" stroke-width="1"/>
<polyline points="655.00,482.50 657.50,490.00 656.25,497.50 655.00,507.50 651.25,513.75 648.75,520.00" stroke-width="1"/>
<polyline points="657.50,485.00 667.50,485.00" stroke-width="1"/>
<polyline points="657.50,491.25 667.50,491.25" stroke-width="1"/>
<polyline points="656.25,497.50 667.50,497.50" stroke-width="1"/>
<polyline points="655.00,502.50 666.25,502.50" stroke-width="1"/>
<polyline points="645.00,467.50 653.75,468.75 657.50,472.50 660.00,477.50 658.75,482.50" stroke-width="1"/>
<polyline points="595.00,500.00 601.25,506.25 602.50,515.00 610.00,516.25 615.00,521.25 622.50,525.00 628.75,525.00 635.00,528.75 641.25,533.75 647.50,541.25" stroke-width="1"/>
<polyline points="600.00,501.25 610.00,506.25 617.50,512.50 625.00,517.50 632.50,521.25 640.00,525.00 647.50,527.50 652.50,532.50" stroke-width="1"/>
<polyline points="655.00,505.00 650.00,511.25 647.50,512.50 646.25,522.50 652.50,526.25" stroke-width="1"/>
<polyline points="640.00,550.00 635.00,548.75 630.00,547.50 625.00,550.00 622.50,557.50 618.75,565.00 617.50,571.25 616.25,575.00 610.00,577.50 602.50,581.25 595.00,583.75 585.00,585.00 577.50,586.25 570.00,588.75 565.00,592.50 560.00,592.50" stroke-width="1"/>
<polyline points="618.75,565.00 628.75,562.50" stroke-width="1"/>
<polyline points="617.50,575.00 627.50,572.50" stroke-width="1"/>
<polyline points="610.00,580.00 618.75,588.75" stroke-width="1"/>
<polyline points="577.50,586.25 578.75,593.75 580.00,600.00" stroke-width="1"/>
<polyline points="595.00,583.75 597.50,590.00 601.25,596.25" stroke-width="1"/>
<polyline points="587.50,585.00 591.25,592.50 592.50,600.00" stroke-width="1"/>
<polyline points="567.50,590.00 570.00,596.25" stroke-width="1"/>
<polyline points="415.00,581.25 425.00,580.00 433.75,578.75 441.25,581.25 443.75,586.25 443.75,590.00" stroke-width="1"/>
<polyline points="418.75,592.50 427.50,591.25 435.00,590.00 442.50,588.75" stroke-width="1"/>
<polyline points="418.75,600.00 428.75,598.75 436.25,596.25 443.75,593.75" stroke-width="1"/>
<polyline points="447.50,590.00 452.50,581.25 458.75,580.00 465.00,577.50 467.50,572.50 475.00,568.75 481.25,566.25 485.00,562.50 485.00,558.75 497.50,558.75 497.50,550.00" stroke-width="1"/>
<polyline points="486.25,560.00 486.25,575.00 485.00,582.50 480.00,587.50 478.75,602.50 476.25,612.50 475.00,620.00" stroke-width="1"/>
<polyline points="465.00,578.75 465.00,591.25 460.00,600.00 457.50,607.50" stroke-width="1"/>
<polyline points="487.50,580.00 487.50,600.00 487.50,620.00" stroke-width="1"/>
<polyline points="446.25,590.00 446.25,612.50" stroke-width="1"/>
<polyline points="430.00,612.50 432.50,602.50 437.50,597.50 441.25,595.00" stroke-width="1"/>
<polyline points="412.50,550.00 413.75,557.50 412.50,580.00" stroke-width="1"/>
<polyline points="492.50,573.75 497.50,572.50 505.00,572.50 515.00,573.75 520.00,576.25 527.50,580.00 535.00,580.00 537.50,585.00 542.50,587.50 548.75,588.75 555.00,592.50 560.00,593.75 565.00,592.50 571.25,590.00 577.50,585.00 585.00,585.00 590.00,583.75" stroke-width="1"/>
<polyline points="492.50,573.75 493.75,585.00 496.25,597.50 495.00,610.00 492.50,617.50 492.50,625.00" stroke-width="1"/>
<polyline points="497.50,572.50 497.50,597.50 497.50,610.00" stroke-width="1"/>
<polyline points="505.00,572.50 505.00,597.50 502.50,601.25 501.25,612.50 497.50,620.00 496.25,626.25" stroke-width="1"/>
<polyline points="527.50,580.00 527.50,590.00 526.25,592.50 525.00,597.50 518.75,602.50 513.75,607.50 512.50,615.00 506.25,622.50 503.75,630.00" stroke-width="1"/>
<polyline points="525.00,592.50 531.25,592.50 537.50,595.00 542.50,597.50 543.75,602.50 542.50,606.25 535.00,608.75 527.50,612.50 522.50,617.50 521.25,622.50 520.00,627.50" stroke-width="1"/>
<polyline points="542.50,606.25 547.50,615.00 550.00,617.50 557.50,621.25 561.25,625.00 562.50,631.25" stroke-width="1"/>
<polyline points="550.00,617.50 548.75,625.00 545.00,632.50 540.00,640.00 537.50,647.50" stroke-width="1"/>
<polyline points="521.25,622.50 523.75,630.00 525.00,640.00 527.50,650.00 528.75,657.50" stroke-width="1"/>
<polyline points="565.00,592.50 566.25,602.50 567.50,615.00 567.50,626.25" stroke-width="1"/>
<polyline points="568.75,593.75 572.50,601.25 577.50,607.50 580.00,615.00" stroke-width="1"/>
<polyline points="577.50,585.00 577.50,597.50" stroke-width="1"/>
<polyline points="512.50,622.50 515.00,627.50" stroke-width="1"/>
<polyline points="433.75,450.00 432.50,457.50 422.50,465.00 418.75,470.00 417.50,475.00 413.75,482.50 412.50,491.25 410.00,500.00 407.50,503.75 412.50,507.50 416.25,512.50 420.00,520.00 423.75,527.50 426.25,532.50 422.50,537.50 418.75,541.25 417.50,550.00" stroke-width="1"/>
<polyline points="420.00,450.00 420.00,457.50 417.50,463.75 416.25,468.75 410.00,473.75" stroke-width="1"/>
<polyline points="400.00,450.00 400.00,456.25 385.00,456.25" stroke-width="1"/>
<polyline points="382.50,457.50 388.75,461.25 400.00,462.50 405.00,467.50 407.50,472.50 410.00,473.75" stroke-width="1"/>
<polyline points="382.50,466.25 395.00,466.25 402.50,471.25 407.50,473.75" stroke-width="1"/>
<polyline points="382.50,475.00 395.00,476.25 402.50,478.75 407.50,480.00 410.00,476.25" stroke-width="1"/>
<polyline points="382.50,481.25 395.00,483.75 405.00,487.50 408.75,485.00" stroke-width="1"/>
<polyline points="382.50,487.50 395.00,490.00 402.50,492.50" stroke-width="1"/>
<polyline points="382.50,495.00 395.00,497.50 400.00,498.75" stroke-width="1"/>
<polyline points="383.75,502.50 395.00,502.50 401.25,501.25 406.25,503.75" stroke-width="1"/>
<polyline points="386.25,512.50 395.00,508.75 400.00,505.00" stroke-width="1"/>
<polyline points="400.00,505.00 398.75,512.50 395.00,520.00 397.50,527.50 396.25,535.00" stroke-width="1"/>
<polyline points="406.25,503.75 406.25,515.00 406.25,530.00 402.50,537.50 397.50,545.00" stroke-width="1"/>
<polyline points="401.25,506.25 402.50,525.00" stroke-width="1"/>
<polyline points="504.00,413.75 504.50,422.00 505.40,435.75 499.25,441.00 497.50,448.00 494.00,455.00 501.00,467.25 500.10,481.25 497.50,497.00 501.00,514.50 501.00,528.50 503.00,535.00 500.50,543.75 498.75,552.50 497.00,560.40 484.75,560.40 485.00,562.50" stroke-width="1"/>
<polyline points="396.00,192.00 400.20,195.50 401.60,199.00" stroke-width="1"/>
<polyline points="405.80,187.80 404.40,192.00 403.00,196.20 400.20,200.40" stroke-width="1"/>
<polyline points="410.00,185.00 410.00,190.60 408.60,195.50" stroke-width="1"/>
<polyline points="414.20,186.40 412.80,192.00 410.00,196.90" stroke-width="1"/>
<polyline points="417.00,185.00 419.80,189.20 417.00,193.40" stroke-width="1"/>
<polyline points="422.60,192.00 425.40,195.50 429.60,196.20" stroke-width="1"/>
<polyline points="391.80,192.00 396.00,195.50 397.40,199.00" stroke-width="1"/>
<polyline points="385.50,196.20 389.00,199.00 391.10,201.10" stroke-width="1"/>
<polyline points="432.40,195.50 431.00,199.00 433.80,201.80" stroke-width="1"/>
<polyline points="413.50,551.00 400.50,568.00" stroke-width="1"/>
<polyline points="413.50,554.40 400.50,571.40" stroke-width="1"/>
<polyline points="413.50,557.80 400.50,574.80" stroke-width="1"/>
<polyline points="413.50,561.20 400.50,578.20" stroke-width="1"/>
<polyline points="413.50,564.60 400.50,581.60" stroke-width="1"/>
<polyline points="413.50,568.00 400.50,585.00" stroke-width="1"/>
<polyline points="413.50,571.40 400.50,588.40" stroke-width="1"/>
<polyline points="413.50,574.80 400.50,591.80" stroke-width="1"/>
</g>
</g>
<g fill="#000" shape-rendering="crispEdges">
<rect x="300" y="70" width="399" height="2"/>
<rect x="300" y="729" width="399" height="2"/>
<rect x="300" y="70" width="2" height="661"/>
<rect x="697" y="70" width="2" height="661"/>
<rect x="297" y="71" width="3" height="1"/>
<rect x="297" y="153" width="3" height="1"/>
<rect x="297" y="235" width="3" height="1"/>
<rect x="297" y="318" width="3" height="1"/>
<rect x="297" y="400" width="3" height="1"/>
<rect x="297" y="483" width="3" height="1"/>
<rect x="297" y="565" width="3" height="1"/>
<rect x="297" y="648" width="3" height="1"/>
<rect x="297" y="730" width="3" height="1"/>
<rect x="301" y="731" width="1" height="4"/>
<rect x="340" y="731" width="1" height="4"/>
<rect x="380" y="731" width="1" height="4"/>
<rect x="420" y="731" width="1" height="4"/>
<rect x="460" y="731" width="1" height="4"/>
<rect x="500" y="731" width="1" height="4"/>
<rect x="539" y="731" width="1" height="4"/>
<rect x="579" y="731" width="1" height="4"/>
<rect x="619" y="731" width="1" height="4"/>
<rect x="659" y="731" width="1" height="4"/>
<rect x="698" y="731" width="1" height="4"/>
</g>
<g shape-rendering="crispEdges">
<rect x="841" y="124" width="17" height="42" fill="#fa3c3c"/>
<rect x="841" y="167" width="17" height="41" fill="#f08228"/>
<rect x="841" y="209" width="17" height="42" fill="#e6af2d"/>
<rect x="841" y="252" width="17" height="42" fill="#e6dc32"/>
<rect x="841" y="295" width="17" height="41" fill="#a0e632"/>
<rect x="841" y="337" width="17" height="42" fill="#00dc00"/>
<rect x="841" y="380" width="17" height="42" fill="#00d28c"/>
<rect x="841" y="423" width="17" height="41" fill="#00c8c8"/>
<rect x="841" y="465" width="17" height="42" fill="#00a0ff"/>
<rect x="841" y="508" width="17" height="42" fill="#1e3cff"/>
<rect x="841" y="551" width="17" height="41" fill="#8200dc"/>
<rect x="841" y="593" width="17" height="42" fill="#a000c8"/>
<rect x="841" y="636" width="17" height="42" fill="#aaaaaa"/>
<rect x="840" y="123" width="19" height="1" fill="#000"/>
<rect x="840" y="166" width="19" height="1" fill="#000"/>
<rect x="840" y="208" width="19" height="1" fill="#000"/>
<rect x="840" y="251" width="19" height="1" fill="#000"/>
<rect x="840" y="294" width="19" height="1" fill="#000"/>
<rect x="840" y="336" width="19" height="1" fill="#000"/>
<rect x="840" y="379" width="19" height="1" fill="#000"/>
<rect x="840" y="422" width="19" height="1" fill="#000"/>
<rect x="840" y="464" width="19" height="1" fill="#000"/>
<rect x="840" y="507" width="19" height="1" fill="#000"/>
<rect x="840" y="550" width="19" height="1" fill="#000"/>
<rect x="840" y="592" width="19" height="1" fill="#000"/>
<rect x="840" y="635" width="19" height="1" fill="#000"/>
<rect x="840" y="678" width="19" height="1" fill="#000"/>
<rect x="840" y="123" width="1" height="556" fill="#000"/>
<rect x="858" y="123" width="1" height="556" fill="#000"/>
<polygon points="840.5,123.5 858.5,123.5 849.5,80.5" fill="#f00082" stroke="#000" stroke-width="1"/>
<polygon points="840.5,678.5 858.5,678.5 849.5,720.5" fill="#fff" stroke="#000" stroke-width="1"/>
</g>
<path d="M258.82,69.27 L259.62,68.80 L260.82,67.40 L260.82,77.20M266.44,67.40 L270.85,67.40 L268.44,71.13 L269.65,71.13 L270.45,71.60 L270.85,72.07 L271.25,73.47 L271.25,74.40 L270.85,75.80 L270.05,76.73 L268.84,77.20 L267.64,77.20 L266.44,76.73 L266.04,76.27 L265.64,75.33M274.46,76.27 L274.06,76.73 L274.46,77.20 L274.86,76.73 L274.46,76.27M281.68,67.40 L277.67,73.93 L283.68,73.93M281.68,67.40 L281.68,77.20M286.09,67.40 L286.09,77.20M286.09,67.40 L291.70,77.20M291.70,67.40 L291.70,77.20" fill="none" stroke="#000" stroke-width="1.2" stroke-linecap="round" stroke-linejoin="round"/>
<path d="M250.80,151.27 L251.60,150.80 L252.80,149.40 L252.80,159.20M258.42,149.40 L262.83,149.40 L260.42,153.13 L261.63,153.13 L262.43,153.60 L262.83,154.07 L263.23,155.47 L263.23,156.40 L262.83,157.80 L262.03,158.73 L260.82,159.20 L259.62,159.20 L258.42,158.73 L258.02,158.27 L257.62,157.33M266.44,158.27 L266.04,158.73 L266.44,159.20 L266.84,158.73 L266.44,158.27M270.45,149.40 L274.86,149.40 L272.45,153.13 L273.66,153.13 L274.46,153.60 L274.86,154.07 L275.26,155.47 L275.26,156.40 L274.86,157.80 L274.06,158.73 L272.85,159.20 L271.65,159.20 L270.45,158.73 L270.05,158.27 L269.65,157.33M282.48,149.40 L278.47,149.40 L278.07,153.60 L278.47,153.13 L279.67,152.67 L280.87,152.67 L282.08,153.13 L282.88,154.07 L283.28,155.47 L283.28,156.40 L282.88,157.80 L282.08,158.73 L280.87,159.20 L279.67,159.20 L278.47,158.73 L278.07,158.27 L277.67,157.33M286.09,149.40 L286.09,159.20M286.09,149.40 L291.70,159.20M291.70,149.40 L291.70,159.20" fill="none" stroke="#000" stroke-width="1.2" stroke-linecap="round" stroke-linejoin="round"/>
<path d="M258.82,233.27 L259.62,232.80 L260.82,231.40 L260.82,241.20M266.44,231.40 L270.85,231.40 L268.44,235.13 L269.65,235.13 L270.45,235.60 L270.85,236.07 L271.25,237.47 L271.25,238.40 L270.85,239.80 L270.05,240.73 L268.84,241.20 L267.64,241.20 L266.44,240.73 L266.04,240.27 L265.64,239.33M274.46,240.27 L274.06,240.73 L274.46,241.20 L274.86,240.73 L274.46,240.27M278.47,231.40 L282.88,231.40 L280.47,235.13 L281.68,235.13 L282.48,235.60 L282.88,236.07 L283.28,237.47 L283.28,238.40 L282.88,239.80 L282.08,240.73 L280.87,241.20 L279.67,241.20 L278.47,240.73 L278.07,240.27 L277.67,239.33M286.09,231.40 L286.09,241.20M286.09,231.40 L291.70,241.20M291.70,231.40 L291.70,241.20" fill="none" stroke="#000" stroke-width="1.2" stroke-linecap="round" stroke-linejoin="round"/>
<path d="M250.80,316.27 L251.60,315.80 L252.80,314.40 L252.80,324.20M258.42,314.40 L262.83,314.40 L260.42,318.13 L261.63,318.13 L262.43,318.60 L262.83,319.07 L263.23,320.47 L263.23,321.40 L262.83,322.80 L262.03,323.73 L260.82,324.20 L259.62,324.20 L258.42,323.73 L258.02,323.27 L257.62,322.33M266.44,323.27 L266.04,323.73 L266.44,324.20 L266.84,323.73 L266.44,323.27M270.05,316.73 L270.05,316.27 L270.45,315.33 L270.85,314.87 L271.65,314.40 L273.25,314.40 L274.06,314.87 L274.46,315.33 L274.86,316.27 L274.86,317.20 L274.46,318.13 L273.66,319.53 L269.65,324.20 L275.26,324.20M282.48,314.40 L278.47,314.40 L278.07,318.60 L278.47,318.13 L279.67,317.67 L280.87,317.67 L282.08,318.13 L282.88,319.07 L283.28,320.47 L283.28,321.40 L282.88,322.80 L282.08,323.73 L280.87,324.20 L279.67,324.20 L278.47,323.73 L278.07,323.27 L277.67,322.33M286.09,314.40 L286.09,324.20M286.09,314.40 L291.70,324.20M291.70,314.40 L291.70,324.20" fill="none" stroke="#000" stroke-width="1.2" stroke-linecap="round" stroke-linejoin="round"/>
<path d="M258.82,398.27 L259.62,397.80 L260.82,396.40 L260.82,406.20M266.44,396.40 L270.85,396.40 L268.44,400.13 L269.65,400.13 L270.45,400.60 L270.85,401.07 L271.25,402.47 L271.25,403.40 L270.85,404.80 L270.05,405.73 L268.84,406.20 L267.64,406.20 L266.44,405.73 L266.04,405.27 L265.64,404.33M274.46,405.27 L274.06,405.73 L274.46,406.20 L274.86,405.73 L274.46,405.27M278.07,398.73 L278.07,398.27 L278.47,397.33 L278.87,396.87 L279.67,396.40 L281.27,396.40 L282.08,396.87 L282.48,397.33 L282.88,398.27 L282.88,399.20 L282.48,400.13 L281.68,401.53 L277.67,406.20 L283.28,406.20M286.09,396.40 L286.09,406.20M286.09,396.40 L291.70,406.20M291.70,396.40 L291.70,406.20" fill="none" stroke="#000" stroke-width="1.2" stroke-linecap="round" stroke-linejoin="round"/>
<path d="M250.80,481.27 L251.60,480.80 L252.80,479.40 L252.80,489.20M258.42,479.40 L262.83,479.40 L260.42,483.13 L261.63,483.13 L262.43,483.60 L262.83,484.07 L263.23,485.47 L263.23,486.40 L262.83,487.80 L262.03,488.73 L260.82,489.20 L259.62,489.20 L258.42,488.73 L258.02,488.27 L257.62,487.33M266.44,488.27 L266.04,488.73 L266.44,489.20 L266.84,488.73 L266.44,488.27M270.85,481.27 L271.65,480.80 L272.85,479.40 L272.85,489.20M282.48,479.40 L278.47,479.40 L278.07,483.60 L278.47,483.13 L279.67,482.67 L280.87,482.67 L282.08,483.13 L282.88,484.07 L283.28,485.47 L283.28,486.40 L282.88,487.80 L282.08,488.73 L280.87,489.20 L279.67,489.20 L278.47,488.73 L278.07,488.27 L277.67,487.33M286.09,479.40 L286.09,489.20M286.09,479.40 L291.70,489.20M291.70,479.40 L291.70,489.20" fill="none" stroke="#000" stroke-width="1.2" stroke-linecap="round" stroke-linejoin="round"/>
<path d="M258.82,563.27 L259.62,562.80 L260.82,561.40 L260.82,571.20M266.44,561.40 L270.85,561.40 L268.44,565.13 L269.65,565.13 L270.45,565.60 L270.85,566.07 L271.25,567.47 L271.25,568.40 L270.85,569.80 L270.05,570.73 L268.84,571.20 L267.64,571.20 L266.44,570.73 L266.04,570.27 L265.64,569.33M274.46,570.27 L274.06,570.73 L274.46,571.20 L274.86,570.73 L274.46,570.27M278.87,563.27 L279.67,562.80 L280.87,561.40 L280.87,571.20M286.09,561.40 L286.09,571.20M286.09,561.40 L291.70,571.20M291.70,561.40 L291.70,571.20" fill="none" stroke="#000" stroke-width="1.2" stroke-linecap="round" stroke-linejoin="round"/>
<path d="M250.80,646.27 L251.60,645.80 L252.80,644.40 L252.80,654.20M258.42,644.40 L262.83,644.40 L260.42,648.13 L261.63,648.13 L262.43,648.60 L262.83,649.07 L263.23,650.47 L263.23,651.40 L262.83,652.80 L262.03,653.73 L260.82,654.20 L259.62,654.20 L258.42,653.73 L258.02,653.27 L257.62,652.33M266.44,653.27 L266.04,653.73 L266.44,654.20 L266.84,653.73 L266.44,653.27M272.05,644.40 L270.85,644.87 L270.05,646.27 L269.65,648.60 L269.65,650.00 L270.05,652.33 L270.85,653.73 L272.05,654.20 L272.85,654.20 L274.06,653.73 L274.86,652.33 L275.26,650.00 L275.26,648.60 L274.86,646.27 L274.06,644.87 L272.85,644.40 L272.05,644.40M282.48,644.40 L278.47,644.40 L278.07,648.60 L278.47,648.13 L279.67,647.67 L280.87,647.67 L282.08,648.13 L282.88,649.07 L283.28,650.47 L283.28,651.40 L282.88,652.80 L282.08,653.73 L280.87,654.20 L279.67,654.20 L278.47,653.73 L278.07,653.27 L277.67,652.33M286.09,644.40 L286.09,654.20M286.09,644.40 L291.70,654.20M291.70,644.40 L291.70,654.20" fill="none" stroke="#000" stroke-width="1.2" stroke-linecap="round" stroke-linejoin="round"/>
<path d="M270.85,728.27 L271.65,727.80 L272.85,726.40 L272.85,736.20M278.47,726.40 L282.88,726.40 L280.47,730.13 L281.68,730.13 L282.48,730.60 L282.88,731.07 L283.28,732.47 L283.28,733.40 L282.88,734.80 L282.08,735.73 L280.87,736.20 L279.67,736.20 L278.47,735.73 L278.07,735.27 L277.67,734.33M286.09,726.40 L286.09,736.20M286.09,726.40 L291.70,736.20M291.70,726.40 L291.70,736.20" fill="none" stroke="#000" stroke-width="1.2" stroke-linecap="round" stroke-linejoin="round"/>
<path d="M288.94,738.60 L285.07,738.60 L284.69,742.37 L285.07,741.95 L286.23,741.53 L287.39,741.53 L288.55,741.95 L289.32,742.79 L289.71,744.05 L289.71,744.89 L289.32,746.14 L288.55,746.98 L287.39,747.40 L286.23,747.40 L285.07,746.98 L284.69,746.56 L284.30,745.72M297.06,741.53 L296.67,742.79 L295.90,743.63 L294.74,744.05 L294.35,744.05 L293.19,743.63 L292.42,742.79 L292.03,741.53 L292.03,741.11 L292.42,739.86 L293.19,739.02 L294.35,738.60 L294.74,738.60 L295.90,739.02 L296.67,739.86 L297.06,741.53 L297.06,743.63 L296.67,745.72 L295.90,746.98 L294.74,747.40 L293.96,747.40 L292.80,746.98 L292.42,746.14M300.53,746.56 L300.15,746.98 L300.53,747.40 L300.92,746.98 L300.53,746.56M309.04,738.60 L305.17,747.40M303.63,738.60 L309.04,738.60M310.97,738.60 L312.90,747.40M314.83,738.60 L312.90,747.40M314.83,738.60 L316.77,747.40M318.70,738.60 L316.77,747.40" fill="none" stroke="#000" stroke-width="1.2" stroke-linecap="round" stroke-linejoin="round"/>
<path d="M324.07,738.60 L320.21,738.60 L319.82,742.37 L320.21,741.95 L321.37,741.53 L322.53,741.53 L323.69,741.95 L324.46,742.79 L324.85,744.05 L324.85,744.89 L324.46,746.14 L323.69,746.98 L322.53,747.40 L321.37,747.40 L320.21,746.98 L319.82,746.56 L319.43,745.72M332.19,741.53 L331.80,742.79 L331.03,743.63 L329.87,744.05 L329.48,744.05 L328.32,743.63 L327.55,742.79 L327.17,741.53 L327.17,741.11 L327.55,739.86 L328.32,739.02 L329.48,738.60 L329.87,738.60 L331.03,739.02 L331.80,739.86 L332.19,741.53 L332.19,743.63 L331.80,745.72 L331.03,746.98 L329.87,747.40 L329.10,747.40 L327.94,746.98 L327.55,746.14M335.67,746.56 L335.28,746.98 L335.67,747.40 L336.06,746.98 L335.67,746.56M343.79,739.86 L343.40,739.02 L342.24,738.60 L341.47,738.60 L340.31,739.02 L339.53,740.28 L339.15,742.37 L339.15,744.47 L339.53,746.14 L340.31,746.98 L341.47,747.40 L341.85,747.40 L343.01,746.98 L343.79,746.14 L344.17,744.89 L344.17,744.47 L343.79,743.21 L343.01,742.37 L341.85,741.95 L341.47,741.95 L340.31,742.37 L339.53,743.21 L339.15,744.47M351.90,738.60 L348.04,747.40M346.49,738.60 L351.90,738.60M353.83,738.60 L355.77,747.40M357.70,738.60 L355.77,747.40M357.70,738.60 L359.63,747.40M361.57,738.60 L359.63,747.40" fill="none" stroke="#000" stroke-width="1.2" stroke-linecap="round" stroke-linejoin="round"/>
<path d="M364.07,738.60 L360.21,738.60 L359.82,742.37 L360.21,741.95 L361.37,741.53 L362.53,741.53 L363.69,741.95 L364.46,742.79 L364.85,744.05 L364.85,744.89 L364.46,746.14 L363.69,746.98 L362.53,747.40 L361.37,747.40 L360.21,746.98 L359.82,746.56 L359.43,745.72M372.19,741.53 L371.80,742.79 L371.03,743.63 L369.87,744.05 L369.48,744.05 L368.32,743.63 L367.55,742.79 L367.17,741.53 L367.17,741.11 L367.55,739.86 L368.32,739.02 L369.48,738.60 L369.87,738.60 L371.03,739.02 L371.80,739.86 L372.19,741.53 L372.19,743.63 L371.80,745.72 L371.03,746.98 L369.87,747.40 L369.10,747.40 L367.94,746.98 L367.55,746.14M375.67,746.56 L375.28,746.98 L375.67,747.40 L376.06,746.98 L375.67,746.56M383.79,739.86 L383.40,739.02 L382.24,738.60 L381.47,738.60 L380.31,739.02 L379.53,740.28 L379.15,742.37 L379.15,744.47 L379.53,746.14 L380.31,746.98 L381.47,747.40 L381.85,747.40 L383.01,746.98 L383.79,746.14 L384.17,744.89 L384.17,744.47 L383.79,743.21 L383.01,742.37 L381.85,741.95 L381.47,741.95 L380.31,742.37 L379.53,743.21 L379.15,744.47M390.36,738.60 L386.49,744.47 L392.29,744.47M390.36,738.60 L390.36,747.40M393.83,738.60 L395.77,747.40M397.70,738.60 L395.77,747.40M397.70,738.60 L399.63,747.40M401.57,738.60 L399.63,747.40" fill="none" stroke="#000" stroke-width="1.2" stroke-linecap="round" stroke-linejoin="round"/>
<path d="M404.07,738.60 L400.21,738.60 L399.82,742.37 L400.21,741.95 L401.37,741.53 L402.53,741.53 L403.69,741.95 L404.46,742.79 L404.85,744.05 L404.85,744.89 L404.46,746.14 L403.69,746.98 L402.53,747.40 L401.37,747.40 L400.21,746.98 L399.82,746.56 L399.43,745.72M412.19,741.53 L411.80,742.79 L411.03,743.63 L409.87,744.05 L409.48,744.05 L408.32,743.63 L407.55,742.79 L407.17,741.53 L407.17,741.11 L407.55,739.86 L408.32,739.02 L409.48,738.60 L409.87,738.60 L411.03,739.02 L411.80,739.86 L412.19,741.53 L412.19,743.63 L411.80,745.72 L411.03,746.98 L409.87,747.40 L409.10,747.40 L407.94,746.98 L407.55,746.14M415.67,746.56 L415.28,746.98 L415.67,747.40 L416.06,746.98 L415.67,746.56M423.79,739.86 L423.40,739.02 L422.24,738.60 L421.47,738.60 L420.31,739.02 L419.53,740.28 L419.15,742.37 L419.15,744.47 L419.53,746.14 L420.31,746.98 L421.47,747.40 L421.85,747.40 L423.01,746.98 L423.79,746.14 L424.17,744.89 L424.17,744.47 L423.79,743.21 L423.01,742.37 L421.85,741.95 L421.47,741.95 L420.31,742.37 L419.53,743.21 L419.15,744.47M427.65,740.28 L428.42,739.86 L429.58,738.60 L429.58,747.40M433.83,738.60 L435.77,747.40M437.70,738.60 L435.77,747.40M437.70,738.60 L439.63,747.40M441.57,738.60 L439.63,747.40" fill="none" stroke="#000" stroke-width="1.2" stroke-linecap="round" stroke-linejoin="round"/>
<path d="M444.07,738.60 L440.21,738.60 L439.82,742.37 L440.21,741.95 L441.37,741.53 L442.53,741.53 L443.69,741.95 L444.46,742.79 L444.85,744.05 L444.85,744.89 L444.46,746.14 L443.69,746.98 L442.53,747.40 L441.37,747.40 L440.21,746.98 L439.82,746.56 L439.43,745.72M452.19,741.53 L451.80,742.79 L451.03,743.63 L449.87,744.05 L449.48,744.05 L448.32,743.63 L447.55,742.79 L447.17,741.53 L447.17,741.11 L447.55,739.86 L448.32,739.02 L449.48,738.60 L449.87,738.60 L451.03,739.02 L451.80,739.86 L452.19,741.53 L452.19,743.63 L451.80,745.72 L451.03,746.98 L449.87,747.40 L449.10,747.40 L447.94,746.98 L447.55,746.14M455.67,746.56 L455.28,746.98 L455.67,747.40 L456.06,746.98 L455.67,746.56M463.40,738.60 L459.53,738.60 L459.15,742.37 L459.53,741.95 L460.69,741.53 L461.85,741.53 L463.01,741.95 L463.79,742.79 L464.17,744.05 L464.17,744.89 L463.79,746.14 L463.01,746.98 L461.85,747.40 L460.69,747.40 L459.53,746.98 L459.15,746.56 L458.76,745.72M468.42,738.60 L467.26,739.02 L466.88,739.86 L466.88,740.70 L467.26,741.53 L468.04,741.95 L469.58,742.37 L470.74,742.79 L471.52,743.63 L471.90,744.47 L471.90,745.72 L471.52,746.56 L471.13,746.98 L469.97,747.40 L468.42,747.40 L467.26,746.98 L466.88,746.56 L466.49,745.72 L466.49,744.47 L466.88,743.63 L467.65,742.79 L468.81,742.37 L470.36,741.95 L471.13,741.53 L471.52,740.70 L471.52,739.86 L471.13,739.02 L469.97,738.60 L468.42,738.60M473.83,738.60 L475.77,747.40M477.70,738.60 L475.77,747.40M477.70,738.60 L479.63,747.40M481.57,738.60 L479.63,747.40" fill="none" stroke="#000" stroke-width="1.2" stroke-linecap="round" stroke-linejoin="round"/>
<path d="M484.07,738.60 L480.21,738.60 L479.82,742.37 L480.21,741.95 L481.37,741.53 L482.53,741.53 L483.69,741.95 L484.46,742.79 L484.85,744.05 L484.85,744.89 L484.46,746.14 L483.69,746.98 L482.53,747.40 L481.37,747.40 L480.21,746.98 L479.82,746.56 L479.43,745.72M492.19,741.53 L491.80,742.79 L491.03,743.63 L489.87,744.05 L489.48,744.05 L488.32,743.63 L487.55,742.79 L487.17,741.53 L487.17,741.11 L487.55,739.86 L488.32,739.02 L489.48,738.60 L489.87,738.60 L491.03,739.02 L491.80,739.86 L492.19,741.53 L492.19,743.63 L491.80,745.72 L491.03,746.98 L489.87,747.40 L489.10,747.40 L487.94,746.98 L487.55,746.14M495.67,746.56 L495.28,746.98 L495.67,747.40 L496.06,746.98 L495.67,746.56M503.40,738.60 L499.53,738.60 L499.15,742.37 L499.53,741.95 L500.69,741.53 L501.85,741.53 L503.01,741.95 L503.79,742.79 L504.17,744.05 L504.17,744.89 L503.79,746.14 L503.01,746.98 L501.85,747.40 L500.69,747.40 L499.53,746.98 L499.15,746.56 L498.76,745.72M511.13,738.60 L507.26,738.60 L506.88,742.37 L507.26,741.95 L508.42,741.53 L509.58,741.53 L510.74,741.95 L511.52,742.79 L511.90,744.05 L511.90,744.89 L511.52,746.14 L510.74,746.98 L509.58,747.40 L508.42,747.40 L507.26,746.98 L506.88,746.56 L506.49,745.72M513.83,738.60 L515.77,747.40M517.70,738.60 L515.77,747.40M517.70,738.60 L519.63,747.40M521.57,738.60 L519.63,747.40" fill="none" stroke="#000" stroke-width="1.2" stroke-linecap="round" stroke-linejoin="round"/>
<path d="M523.07,738.60 L519.21,738.60 L518.82,742.37 L519.21,741.95 L520.37,741.53 L521.53,741.53 L522.69,741.95 L523.46,742.79 L523.85,744.05 L523.85,744.89 L523.46,746.14 L522.69,746.98 L521.53,747.40 L520.37,747.40 L519.21,746.98 L518.82,746.56 L518.43,745.72M531.19,741.53 L530.80,742.79 L530.03,743.63 L528.87,744.05 L528.48,744.05 L527.32,743.63 L526.55,742.79 L526.17,741.53 L526.17,741.11 L526.55,739.86 L527.32,739.02 L528.48,738.60 L528.87,738.60 L530.03,739.02 L530.80,739.86 L531.19,741.53 L531.19,743.63 L530.80,745.72 L530.03,746.98 L528.87,747.40 L528.10,747.40 L526.94,746.98 L526.55,746.14M534.67,746.56 L534.28,746.98 L534.67,747.40 L535.06,746.98 L534.67,746.56M542.40,738.60 L538.53,738.60 L538.15,742.37 L538.53,741.95 L539.69,741.53 L540.85,741.53 L542.01,741.95 L542.79,742.79 L543.17,744.05 L543.17,744.89 L542.79,746.14 L542.01,746.98 L540.85,747.40 L539.69,747.40 L538.53,746.98 L538.15,746.56 L537.76,745.72M545.88,740.70 L545.88,740.28 L546.26,739.44 L546.65,739.02 L547.42,738.60 L548.97,738.60 L549.74,739.02 L550.13,739.44 L550.52,740.28 L550.52,741.11 L550.13,741.95 L549.36,743.21 L545.49,747.40 L550.90,747.40M552.83,738.60 L554.77,747.40M556.70,738.60 L554.77,747.40M556.70,738.60 L558.63,747.40M560.57,738.60 L558.63,747.40" fill="none" stroke="#000" stroke-width="1.2" stroke-linecap="round" stroke-linejoin="round"/>
<path d="M563.07,738.60 L559.21,738.60 L558.82,742.37 L559.21,741.95 L560.37,741.53 L561.53,741.53 L562.69,741.95 L563.46,742.79 L563.85,744.05 L563.85,744.89 L563.46,746.14 L562.69,746.98 L561.53,747.40 L560.37,747.40 L559.21,746.98 L558.82,746.56 L558.43,745.72M571.19,741.53 L570.80,742.79 L570.03,743.63 L568.87,744.05 L568.48,744.05 L567.32,743.63 L566.55,742.79 L566.17,741.53 L566.17,741.11 L566.55,739.86 L567.32,739.02 L568.48,738.60 L568.87,738.60 L570.03,739.02 L570.80,739.86 L571.19,741.53 L571.19,743.63 L570.80,745.72 L570.03,746.98 L568.87,747.40 L568.10,747.40 L566.94,746.98 L566.55,746.14M574.67,746.56 L574.28,746.98 L574.67,747.40 L575.06,746.98 L574.67,746.56M581.63,738.60 L577.76,744.47 L583.56,744.47M581.63,738.60 L581.63,747.40M590.52,741.53 L590.13,742.79 L589.36,743.63 L588.20,744.05 L587.81,744.05 L586.65,743.63 L585.88,742.79 L585.49,741.53 L585.49,741.11 L585.88,739.86 L586.65,739.02 L587.81,738.60 L588.20,738.60 L589.36,739.02 L590.13,739.86 L590.52,741.53 L590.52,743.63 L590.13,745.72 L589.36,746.98 L588.20,747.40 L587.42,747.40 L586.26,746.98 L585.88,746.14M592.83,738.60 L594.77,747.40M596.70,738.60 L594.77,747.40M596.70,738.60 L598.63,747.40M600.57,738.60 L598.63,747.40" fill="none" stroke="#000" stroke-width="1.2" stroke-linecap="round" stroke-linejoin="round"/>
<path d="M603.07,738.60 L599.21,738.60 L598.82,742.37 L599.21,741.95 L600.37,741.53 L601.53,741.53 L602.69,741.95 L603.46,742.79 L603.85,744.05 L603.85,744.89 L603.46,746.14 L602.69,746.98 L601.53,747.40 L600.37,747.40 L599.21,746.98 L598.82,746.56 L598.43,745.72M611.19,741.53 L610.80,742.79 L610.03,743.63 L608.87,744.05 L608.48,744.05 L607.32,743.63 L606.55,742.79 L606.17,741.53 L606.17,741.11 L606.55,739.86 L607.32,739.02 L608.48,738.60 L608.87,738.60 L610.03,739.02 L610.80,739.86 L611.19,741.53 L611.19,743.63 L610.80,745.72 L610.03,746.98 L608.87,747.40 L608.10,747.40 L606.94,746.98 L606.55,746.14M614.67,746.56 L614.28,746.98 L614.67,747.40 L615.06,746.98 L614.67,746.56M621.63,738.60 L617.76,744.47 L623.56,744.47M621.63,738.60 L621.63,747.40M630.52,739.86 L630.13,739.02 L628.97,738.60 L628.20,738.60 L627.04,739.02 L626.26,740.28 L625.88,742.37 L625.88,744.47 L626.26,746.14 L627.04,746.98 L628.20,747.40 L628.58,747.40 L629.74,746.98 L630.52,746.14 L630.90,744.89 L630.90,744.47 L630.52,743.21 L629.74,742.37 L628.58,741.95 L628.20,741.95 L627.04,742.37 L626.26,743.21 L625.88,744.47M632.83,738.60 L634.77,747.40M636.70,738.60 L634.77,747.40M636.70,738.60 L638.63,747.40M640.57,738.60 L638.63,747.40" fill="none" stroke="#000" stroke-width="1.2" stroke-linecap="round" stroke-linejoin="round"/>
<path d="M643.07,738.60 L639.21,738.60 L638.82,742.37 L639.21,741.95 L640.37,741.53 L641.53,741.53 L642.69,741.95 L643.46,742.79 L643.85,744.05 L643.85,744.89 L643.46,746.14 L642.69,746.98 L641.53,747.40 L640.37,747.40 L639.21,746.98 L638.82,746.56 L638.43,745.72M651.19,741.53 L650.80,742.79 L650.03,743.63 L648.87,744.05 L648.48,744.05 L647.32,743.63 L646.55,742.79 L646.17,741.53 L646.17,741.11 L646.55,739.86 L647.32,739.02 L648.48,738.60 L648.87,738.60 L650.03,739.02 L650.80,739.86 L651.19,741.53 L651.19,743.63 L650.80,745.72 L650.03,746.98 L648.87,747.40 L648.10,747.40 L646.94,746.98 L646.55,746.14M654.67,746.56 L654.28,746.98 L654.67,747.40 L655.06,746.98 L654.67,746.56M661.63,738.60 L657.76,744.47 L663.56,744.47M661.63,738.60 L661.63,747.40M666.26,738.60 L670.52,738.60 L668.20,741.95 L669.36,741.95 L670.13,742.37 L670.52,742.79 L670.90,744.05 L670.90,744.89 L670.52,746.14 L669.74,746.98 L668.58,747.40 L667.42,747.40 L666.26,746.98 L665.88,746.56 L665.49,745.72M672.83,738.60 L674.77,747.40M676.70,738.60 L674.77,747.40M676.70,738.60 L678.63,747.40M680.57,738.60 L678.63,747.40" fill="none" stroke="#000" stroke-width="1.2" stroke-linecap="round" stroke-linejoin="round"/>
<path d="M685.94,738.60 L682.07,738.60 L681.69,742.37 L682.07,741.95 L683.23,741.53 L684.39,741.53 L685.55,741.95 L686.32,742.79 L686.71,744.05 L686.71,744.89 L686.32,746.14 L685.55,746.98 L684.39,747.40 L683.23,747.40 L682.07,746.98 L681.69,746.56 L681.30,745.72M694.06,741.53 L693.67,742.79 L692.90,743.63 L691.74,744.05 L691.35,744.05 L690.19,743.63 L689.42,742.79 L689.03,741.53 L689.03,741.11 L689.42,739.86 L690.19,739.02 L691.35,738.60 L691.74,738.60 L692.90,739.02 L693.67,739.86 L694.06,741.53 L694.06,743.63 L693.67,745.72 L692.90,746.98 L691.74,747.40 L690.96,747.40 L689.80,746.98 L689.42,746.14M697.53,746.56 L697.15,746.98 L697.53,747.40 L697.92,746.98 L697.53,746.56M704.49,738.60 L700.63,744.47 L706.42,744.47M704.49,738.60 L704.49,747.40M707.97,738.60 L709.90,747.40M711.83,738.60 L709.90,747.40M711.83,738.60 L713.77,747.40M715.70,738.60 L713.77,747.40" fill="none" stroke="#000" stroke-width="1.2" stroke-linecap="round" stroke-linejoin="round"/>
<path d="M866.55,674.96 L867.65,674.44 L869.30,672.85 L869.30,683.95" fill="none" stroke="#000" stroke-width="1.2" stroke-linecap="round" stroke-linejoin="round"/>
<path d="M871.50,629.85 L866.00,629.85 L865.45,634.61 L866.00,634.08 L867.65,633.55 L869.30,633.55 L870.95,634.08 L872.05,635.14 L872.60,636.72 L872.60,637.78 L872.05,639.36 L870.95,640.42 L869.30,640.95 L867.65,640.95 L866.00,640.42 L865.45,639.89 L864.90,638.84" fill="none" stroke="#000" stroke-width="1.2" stroke-linecap="round" stroke-linejoin="round"/>
<path d="M866.55,588.96 L867.65,588.44 L869.30,586.85 L869.30,597.95M879.20,586.85 L877.55,587.38 L876.45,588.96 L875.90,591.61 L875.90,593.19 L876.45,595.84 L877.55,597.42 L879.20,597.95 L880.30,597.95 L881.95,597.42 L883.05,595.84 L883.60,593.19 L883.60,591.61 L883.05,588.96 L881.95,587.38 L880.30,586.85 L879.20,586.85" fill="none" stroke="#000" stroke-width="1.2" stroke-linecap="round" stroke-linejoin="round"/>
<path d="M866.55,546.96 L867.65,546.44 L869.30,544.85 L869.30,555.95M882.50,544.85 L877.00,544.85 L876.45,549.61 L877.00,549.08 L878.65,548.55 L880.30,548.55 L881.95,549.08 L883.05,550.14 L883.60,551.72 L883.60,552.78 L883.05,554.36 L881.95,555.42 L880.30,555.95 L878.65,555.95 L877.00,555.42 L876.45,554.89 L875.90,553.84" fill="none" stroke="#000" stroke-width="1.2" stroke-linecap="round" stroke-linejoin="round"/>
<path d="M865.45,504.49 L865.45,503.96 L866.00,502.91 L866.55,502.38 L867.65,501.85 L869.85,501.85 L870.95,502.38 L871.50,502.91 L872.05,503.96 L872.05,505.02 L871.50,506.08 L870.40,507.66 L864.90,512.95 L872.60,512.95M879.20,501.85 L877.55,502.38 L876.45,503.96 L875.90,506.61 L875.90,508.19 L876.45,510.84 L877.55,512.42 L879.20,512.95 L880.30,512.95 L881.95,512.42 L883.05,510.84 L883.60,508.19 L883.60,506.61 L883.05,503.96 L881.95,502.38 L880.30,501.85 L879.20,501.85" fill="none" stroke="#000" stroke-width="1.2" stroke-linecap="round" stroke-linejoin="round"/>
<path d="M865.45,461.49 L865.45,460.96 L866.00,459.91 L866.55,459.38 L867.65,458.85 L869.85,458.85 L870.95,459.38 L871.50,459.91 L872.05,460.96 L872.05,462.02 L871.50,463.08 L870.40,464.66 L864.90,469.95 L872.60,469.95M882.50,458.85 L877.00,458.85 L876.45,463.61 L877.00,463.08 L878.65,462.55 L880.30,462.55 L881.95,463.08 L883.05,464.14 L883.60,465.72 L883.60,466.78 L883.05,468.36 L881.95,469.42 L880.30,469.95 L878.65,469.95 L877.00,469.42 L876.45,468.89 L875.90,467.84" fill="none" stroke="#000" stroke-width="1.2" stroke-linecap="round" stroke-linejoin="round"/>
<path d="M866.00,416.85 L872.05,416.85 L868.75,421.08 L870.40,421.08 L871.50,421.61 L872.05,422.14 L872.60,423.72 L872.60,424.78 L872.05,426.36 L870.95,427.42 L869.30,427.95 L867.65,427.95 L866.00,427.42 L865.45,426.89 L864.90,425.84M879.20,416.85 L877.55,417.38 L876.45,418.96 L875.90,421.61 L875.90,423.19 L876.45,425.84 L877.55,427.42 L879.20,427.95 L880.30,427.95 L881.95,427.42 L883.05,425.84 L883.60,423.19 L883.60,421.61 L883.05,418.96 L881.95,417.38 L880.30,416.85 L879.20,416.85" fill="none" stroke="#000" stroke-width="1.2" stroke-linecap="round" stroke-linejoin="round"/>
<path d="M871.50,373.85 L866.00,373.85 L865.45,378.61 L866.00,378.08 L867.65,377.55 L869.30,377.55 L870.95,378.08 L872.05,379.14 L872.60,380.72 L872.60,381.78 L872.05,383.36 L870.95,384.42 L869.30,384.95 L867.65,384.95 L866.00,384.42 L865.45,383.89 L864.90,382.84M879.20,373.85 L877.55,374.38 L876.45,375.96 L875.90,378.61 L875.90,380.19 L876.45,382.84 L877.55,384.42 L879.20,384.95 L880.30,384.95 L881.95,384.42 L883.05,382.84 L883.60,380.19 L883.60,378.61 L883.05,375.96 L881.95,374.38 L880.30,373.85 L879.20,373.85" fill="none" stroke="#000" stroke-width="1.2" stroke-linecap="round" stroke-linejoin="round"/>
<path d="M867.65,330.85 L866.00,331.38 L865.45,332.44 L865.45,333.49 L866.00,334.55 L867.10,335.08 L869.30,335.61 L870.95,336.14 L872.05,337.19 L872.60,338.25 L872.60,339.84 L872.05,340.89 L871.50,341.42 L869.85,341.95 L867.65,341.95 L866.00,341.42 L865.45,340.89 L864.90,339.84 L864.90,338.25 L865.45,337.19 L866.55,336.14 L868.20,335.61 L870.40,335.08 L871.50,334.55 L872.05,333.49 L872.05,332.44 L871.50,331.38 L869.85,330.85 L867.65,330.85M879.20,330.85 L877.55,331.38 L876.45,332.96 L875.90,335.61 L875.90,337.19 L876.45,339.84 L877.55,341.42 L879.20,341.95 L880.30,341.95 L881.95,341.42 L883.05,339.84 L883.60,337.19 L883.60,335.61 L883.05,332.96 L881.95,331.38 L880.30,330.85 L879.20,330.85" fill="none" stroke="#000" stroke-width="1.2" stroke-linecap="round" stroke-linejoin="round"/>
<path d="M866.55,290.96 L867.65,290.44 L869.30,288.85 L869.30,299.95M877.55,290.96 L878.65,290.44 L880.30,288.85 L880.30,299.95M890.20,288.85 L888.55,289.38 L887.45,290.96 L886.90,293.61 L886.90,295.19 L887.45,297.84 L888.55,299.42 L890.20,299.95 L891.30,299.95 L892.95,299.42 L894.05,297.84 L894.60,295.19 L894.60,293.61 L894.05,290.96 L892.95,289.38 L891.30,288.85 L890.20,288.85" fill="none" stroke="#000" stroke-width="1.2" stroke-linecap="round" stroke-linejoin="round"/>
<path d="M866.55,247.96 L867.65,247.44 L869.30,245.85 L869.30,256.95M881.40,245.85 L875.90,253.25 L884.15,253.25M881.40,245.85 L881.40,256.95M890.20,245.85 L888.55,246.38 L887.45,247.96 L886.90,250.61 L886.90,252.19 L887.45,254.84 L888.55,256.42 L890.20,256.95 L891.30,256.95 L892.95,256.42 L894.05,254.84 L894.60,252.19 L894.60,250.61 L894.05,247.96 L892.95,246.38 L891.30,245.85 L890.20,245.85" fill="none" stroke="#000" stroke-width="1.2" stroke-linecap="round" stroke-linejoin="round"/>
<path d="M866.55,204.96 L867.65,204.44 L869.30,202.85 L869.30,213.95M878.65,202.85 L877.00,203.38 L876.45,204.44 L876.45,205.49 L877.00,206.55 L878.10,207.08 L880.30,207.61 L881.95,208.14 L883.05,209.19 L883.60,210.25 L883.60,211.84 L883.05,212.89 L882.50,213.42 L880.85,213.95 L878.65,213.95 L877.00,213.42 L876.45,212.89 L875.90,211.84 L875.90,210.25 L876.45,209.19 L877.55,208.14 L879.20,207.61 L881.40,207.08 L882.50,206.55 L883.05,205.49 L883.05,204.44 L882.50,203.38 L880.85,202.85 L878.65,202.85M890.20,202.85 L888.55,203.38 L887.45,204.96 L886.90,207.61 L886.90,209.19 L887.45,211.84 L888.55,213.42 L890.20,213.95 L891.30,213.95 L892.95,213.42 L894.05,211.84 L894.60,209.19 L894.60,207.61 L894.05,204.96 L892.95,203.38 L891.30,202.85 L890.20,202.85" fill="none" stroke="#000" stroke-width="1.2" stroke-linecap="round" stroke-linejoin="round"/>
<path d="M865.45,163.49 L865.45,162.96 L866.00,161.91 L866.55,161.38 L867.65,160.85 L869.85,160.85 L870.95,161.38 L871.50,161.91 L872.05,162.96 L872.05,164.02 L871.50,165.08 L870.40,166.66 L864.90,171.95 L872.60,171.95M876.45,163.49 L876.45,162.96 L877.00,161.91 L877.55,161.38 L878.65,160.85 L880.85,160.85 L881.95,161.38 L882.50,161.91 L883.05,162.96 L883.05,164.02 L882.50,165.08 L881.40,166.66 L875.90,171.95 L883.60,171.95M890.20,160.85 L888.55,161.38 L887.45,162.96 L886.90,165.61 L886.90,167.19 L887.45,169.84 L888.55,171.42 L890.20,171.95 L891.30,171.95 L892.95,171.42 L894.05,169.84 L894.60,167.19 L894.60,165.61 L894.05,162.96 L892.95,161.38 L891.30,160.85 L890.20,160.85" fill="none" stroke="#000" stroke-width="1.2" stroke-linecap="round" stroke-linejoin="round"/>
<path d="M865.45,120.49 L865.45,119.96 L866.00,118.91 L866.55,118.38 L867.65,117.85 L869.85,117.85 L870.95,118.38 L871.50,118.91 L872.05,119.96 L872.05,121.02 L871.50,122.08 L870.40,123.66 L864.90,128.95 L872.60,128.95M882.50,117.85 L877.00,117.85 L876.45,122.61 L877.00,122.08 L878.65,121.55 L880.30,121.55 L881.95,122.08 L883.05,123.14 L883.60,124.72 L883.60,125.78 L883.05,127.36 L881.95,128.42 L880.30,128.95 L878.65,128.95 L877.00,128.42 L876.45,127.89 L875.90,126.84M890.20,117.85 L888.55,118.38 L887.45,119.96 L886.90,122.61 L886.90,124.19 L887.45,126.84 L888.55,128.42 L890.20,128.95 L891.30,128.95 L892.95,128.42 L894.05,126.84 L894.60,124.19 L894.60,122.61 L894.05,119.96 L892.95,118.38 L891.30,117.85 L890.20,117.85" fill="none" stroke="#000" stroke-width="1.2" stroke-linecap="round" stroke-linejoin="round"/>
<path d="M185.85,12.75 L185.07,10.99 L183.51,9.23 L181.95,8.35 L178.83,8.35 L177.27,9.23 L175.71,10.99 L174.93,12.75 L174.15,15.40 L174.15,19.80 L174.93,22.45 L175.71,24.21 L177.27,25.97 L178.83,26.85 L181.95,26.85 L183.51,25.97 L185.07,24.21 L185.85,22.45M200.10,14.52 L200.10,26.85M200.10,17.16 L198.65,15.40 L197.20,14.52 L195.03,14.52 L193.57,15.40 L192.12,17.16 L191.40,19.80 L191.40,21.56 L192.12,24.21 L193.57,25.97 L195.03,26.85 L197.20,26.85 L198.65,25.97 L200.10,24.21M205.65,14.52 L205.65,26.85M205.65,19.80 L206.36,17.16 L207.79,15.40 L209.21,14.52 L211.35,14.52M216.75,8.35h0.01M216.75,14.52 L216.75,26.85M222.90,8.35 L222.90,26.85M222.90,17.16 L224.47,15.40 L226.05,14.52 L228.41,14.52 L229.99,15.40 L231.56,17.16 L232.35,19.80 L232.35,21.56 L231.56,24.21 L229.99,25.97 L228.41,26.85 L226.05,26.85 L224.47,25.97 L222.90,24.21M238.65,8.35 L238.65,26.85M238.65,17.16 L240.22,15.40 L241.80,14.52 L244.16,14.52 L245.74,15.40 L247.31,17.16 L248.10,19.80 L248.10,21.56 L247.31,24.21 L245.74,25.97 L244.16,26.85 L241.80,26.85 L240.22,25.97 L238.65,24.21M252.90,19.80 L262.35,19.80 L262.35,18.04 L261.56,16.28 L260.77,15.40 L259.20,14.52 L256.84,14.52 L255.26,15.40 L253.69,17.16 L252.90,19.80 L252.90,21.56 L253.69,24.21 L255.26,25.97 L256.84,26.85 L259.20,26.85 L260.77,25.97 L262.35,24.21M277.35,14.52 L277.35,26.85M277.35,17.16 L275.77,15.40 L274.20,14.52 L271.84,14.52 L270.26,15.40 L268.69,17.16 L267.90,19.80 L267.90,21.56 L268.69,24.21 L270.26,25.97 L271.84,26.85 L274.20,26.85 L275.77,25.97 L277.35,24.21M284.40,14.52 L284.40,26.85M284.40,18.04 L286.57,15.40 L288.01,14.52 L290.18,14.52 L291.63,15.40 L292.35,18.04 L292.35,26.85M311.25,8.35 L311.25,26.85M317.90,14.52 L317.90,26.85M317.90,18.04 L320.07,15.40 L321.51,14.52 L323.68,14.52 L325.13,15.40 L325.85,18.04 L325.85,26.85M338.60,17.16 L337.95,15.40 L335.98,14.52 L334.02,14.52 L332.05,15.40 L331.40,17.16 L332.05,18.92 L333.36,19.80 L336.64,20.68 L337.95,21.56 L338.60,23.33 L338.60,24.21 L337.95,25.97 L335.98,26.85 L334.02,26.85 L332.05,25.97 L331.40,24.21M345.26,8.35 L345.26,23.33 L345.87,25.97 L347.11,26.85 L348.35,26.85M343.40,14.52 L347.73,14.52M356.75,8.35h0.01M356.75,14.52 L356.75,26.85M363.26,8.35 L363.26,23.33 L363.87,25.97 L365.11,26.85 L366.35,26.85M361.40,14.52 L365.73,14.52M371.90,14.52 L371.90,23.33 L372.62,25.97 L374.07,26.85 L376.24,26.85 L377.68,25.97 L379.85,23.33M379.85,14.52 L379.85,26.85M386.51,8.35 L386.51,23.33 L387.12,25.97 L388.36,26.85 L389.60,26.85M384.65,14.52 L388.98,14.52M395.90,19.80 L405.35,19.80 L405.35,18.04 L404.56,16.28 L403.77,15.40 L402.20,14.52 L399.84,14.52 L398.26,15.40 L396.69,17.16 L395.90,19.80 L395.90,21.56 L396.69,24.21 L398.26,25.97 L399.84,26.85 L402.20,26.85 L403.77,25.97 L405.35,24.21M433.10,8.35 L431.67,8.35 L430.25,9.23 L429.54,11.87 L429.54,26.85M427.40,14.52 L432.39,14.52M439.55,14.52 L438.29,15.40 L437.03,17.16 L436.40,19.80 L436.40,21.56 L437.03,24.21 L438.29,25.97 L439.55,26.85 L441.45,26.85 L442.71,25.97 L443.97,24.21 L444.60,21.56 L444.60,19.80 L443.97,17.16 L442.71,15.40 L441.45,14.52 L439.55,14.52M449.15,14.52 L449.15,26.85M449.15,19.80 L449.96,17.16 L451.57,15.40 L453.18,14.52 L455.60,14.52M476.15,8.35 L476.15,26.85M476.15,8.35 L482.37,26.85M488.60,8.35 L482.37,26.85M488.60,8.35 L488.60,26.85M494.15,19.80 L502.85,19.80 L502.85,18.04 L502.12,16.28 L501.40,15.40 L499.95,14.52 L497.77,14.52 L496.32,15.40 L494.87,17.16 L494.15,19.80 L494.15,21.56 L494.87,24.21 L496.32,25.97 L497.77,26.85 L499.95,26.85 L501.40,25.97 L502.85,24.21M509.04,8.35 L509.04,23.33 L509.75,25.97 L511.17,26.85 L512.60,26.85M506.90,14.52 L511.89,14.52M517.40,19.80 L526.85,19.80 L526.85,18.04 L526.06,16.28 L525.27,15.40 L523.70,14.52 L521.34,14.52 L519.76,15.40 L518.19,17.16 L517.40,19.80 L517.40,21.56 L518.19,24.21 L519.76,25.97 L521.34,26.85 L523.70,26.85 L525.27,25.97 L526.85,24.21M535.00,14.52 L533.66,15.40 L532.32,17.16 L531.65,19.80 L531.65,21.56 L532.32,24.21 L533.66,25.97 L535.00,26.85 L537.00,26.85 L538.34,25.97 L539.68,24.21 L540.35,21.56 L540.35,19.80 L539.68,17.16 L538.34,15.40 L537.00,14.52 L535.00,14.52M545.90,14.52 L545.90,26.85M545.90,19.80 L546.80,17.16 L548.60,15.40 L550.40,14.52 L553.10,14.52M560.50,14.52 L559.16,15.40 L557.82,17.16 L557.15,19.80 L557.15,21.56 L557.82,24.21 L559.16,25.97 L560.50,26.85 L562.50,26.85 L563.84,25.97 L565.18,24.21 L565.85,21.56 L565.85,19.80 L565.18,17.16 L563.84,15.40 L562.50,14.52 L560.50,14.52M573.25,8.35 L573.25,26.85M582.75,14.52 L581.41,15.40 L580.07,17.16 L579.40,19.80 L579.40,21.56 L580.07,24.21 L581.41,25.97 L582.75,26.85 L584.75,26.85 L586.09,25.97 L587.43,24.21 L588.10,21.56 L588.10,19.80 L587.43,17.16 L586.09,15.40 L584.75,14.52 L582.75,14.52M602.10,14.52 L602.10,28.61 L601.31,31.25 L600.52,32.14 L598.95,33.02 L596.59,33.02 L595.01,32.14M602.10,17.16 L600.52,15.40 L598.95,14.52 L596.59,14.52 L595.01,15.40 L593.44,17.16 L592.65,19.80 L592.65,21.56 L593.44,24.21 L595.01,25.97 L596.59,26.85 L598.95,26.85 L600.52,25.97 L602.10,24.21M607.68,14.52 L612.39,26.85M617.10,14.52 L612.39,26.85 L610.82,30.37 L609.25,32.14 L607.68,33.02 L606.90,33.02M645.60,14.52 L645.60,26.85M645.60,17.16 L644.02,15.40 L642.45,14.52 L640.09,14.52 L638.51,15.40 L636.94,17.16 L636.15,19.80 L636.15,21.56 L636.94,24.21 L638.51,25.97 L640.09,26.85 L642.45,26.85 L644.02,25.97 L645.60,24.21M652.65,14.52 L652.65,26.85M652.65,18.04 L654.82,15.40 L656.26,14.52 L658.43,14.52 L659.88,15.40 L660.60,18.04 L660.60,26.85M676.35,8.35 L676.35,26.85M676.35,17.16 L674.77,15.40 L673.20,14.52 L670.84,14.52 L669.26,15.40 L667.69,17.16 L666.90,19.80 L666.90,21.56 L667.69,24.21 L669.26,25.97 L670.84,26.85 L673.20,26.85 L674.77,25.97 L676.35,24.21M696.90,8.35 L696.90,26.85M707.85,8.35 L707.85,26.85M696.90,17.16 L707.85,17.16M712.68,14.52 L717.39,26.85M722.10,14.52 L717.39,26.85 L715.82,30.37 L714.25,32.14 L712.68,33.02 L711.90,33.02M735.60,8.35 L735.60,26.85M735.60,17.16 L734.02,15.40 L732.45,14.52 L730.09,14.52 L728.51,15.40 L726.94,17.16 L726.15,19.80 L726.15,21.56 L726.94,24.21 L728.51,25.97 L730.09,26.85 L732.45,26.85 L734.02,25.97 L735.60,24.21M740.40,14.52 L740.40,26.85M740.40,19.80 L741.11,17.16 L742.54,15.40 L743.96,14.52 L746.10,14.52M754.25,14.52 L752.91,15.40 L751.57,17.16 L750.90,19.80 L750.90,21.56 L751.57,24.21 L752.91,25.97 L754.25,26.85 L756.25,26.85 L757.59,25.97 L758.93,24.21 L759.60,21.56 L759.60,19.80 L758.93,17.16 L757.59,15.40 L756.25,14.52 L754.25,14.52M766.50,8.35 L766.50,26.85M776.00,14.52 L774.66,15.40 L773.32,17.16 L772.65,19.80 L772.65,21.56 L773.32,24.21 L774.66,25.97 L776.00,26.85 L778.00,26.85 L779.34,25.97 L780.68,24.21 L781.35,21.56 L781.35,19.80 L780.68,17.16 L779.34,15.40 L778.00,14.52 L776.00,14.52M795.60,14.52 L795.60,28.61 L794.88,31.25 L794.15,32.14 L792.70,33.02 L790.52,33.02 L789.08,32.14M795.60,17.16 L794.15,15.40 L792.70,14.52 L790.52,14.52 L789.08,15.40 L787.62,17.16 L786.90,19.80 L786.90,21.56 L787.62,24.21 L789.08,25.97 L790.52,26.85 L792.70,26.85 L794.15,25.97 L795.60,24.21M801.93,14.52 L806.64,26.85M811.35,14.52 L806.64,26.85 L805.07,30.37 L803.50,32.14 L801.93,33.02 L801.15,33.02" fill="none" stroke="#000" stroke-width="1.8" stroke-linecap="round" stroke-linejoin="round"/>
<path d="M81.85,33.10 L75.10,53.70M81.85,33.10 L88.60,53.70M77.63,46.83 L86.07,46.83M105.40,39.97 L105.40,55.66 L104.50,58.60 L103.60,59.59 L101.80,60.57 L99.10,60.57 L97.30,59.59M105.40,42.91 L103.60,40.95 L101.80,39.97 L99.10,39.97 L97.30,40.95 L95.50,42.91 L94.60,45.85 L94.60,47.81 L95.50,50.76 L97.30,52.72 L99.10,53.70 L101.80,53.70 L103.60,52.72 L105.40,50.76M123.80,39.97 L123.80,55.66 L122.90,58.60 L122.00,59.59 L120.20,60.57 L117.50,60.57 L115.70,59.59M123.80,42.91 L122.00,40.95 L120.20,39.97 L117.50,39.97 L115.70,40.95 L113.90,42.91 L113.00,45.85 L113.00,47.81 L113.90,50.76 L115.70,52.72 L117.50,53.70 L120.20,53.70 L122.00,52.72 L123.80,50.76M128.20,39.97 L128.20,53.70M128.20,45.85 L128.95,42.91 L130.45,40.95 L131.95,39.97 L134.20,39.97M140.20,45.85 L151.80,45.85 L151.80,43.89 L150.83,41.93 L149.87,40.95 L147.93,39.97 L145.03,39.97 L143.10,40.95 L141.17,42.91 L140.20,45.85 L140.20,47.81 L141.17,50.76 L143.10,52.72 L145.03,53.70 L147.93,53.70 L149.87,52.72 L151.80,50.76M167.80,39.97 L167.80,55.66 L166.90,58.60 L166.00,59.59 L164.20,60.57 L161.50,60.57 L159.70,59.59M167.80,42.91 L166.00,40.95 L164.20,39.97 L161.50,39.97 L159.70,40.95 L157.90,42.91 L157.00,45.85 L157.00,47.81 L157.90,50.76 L159.70,52.72 L161.50,53.70 L164.20,53.70 L166.00,52.72 L167.80,50.76M185.40,39.97 L185.40,53.70M185.40,42.91 L183.60,40.95 L181.80,39.97 L179.10,39.97 L177.30,40.95 L175.50,42.91 L174.60,45.85 L174.60,47.81 L175.50,50.76 L177.30,52.72 L179.10,53.70 L181.80,53.70 L183.60,52.72 L185.40,50.76M192.85,33.10 L192.85,49.78 L193.60,52.72 L195.10,53.70 L196.60,53.70M190.60,39.97 L195.85,39.97M201.80,45.85 L213.40,45.85 L213.40,43.89 L212.43,41.93 L211.47,40.95 L209.53,39.97 L206.63,39.97 L204.70,40.95 L202.77,42.91 L201.80,45.85 L201.80,47.81 L202.77,50.76 L204.70,52.72 L206.63,53.70 L209.53,53.70 L211.47,52.72 L213.40,50.76M229.40,33.10 L229.40,53.70M229.40,42.91 L227.33,40.95 L225.27,39.97 L222.17,39.97 L220.10,40.95 L218.03,42.91 L217.00,45.85 L217.00,47.81 L218.03,50.76 L220.10,52.72 L222.17,53.70 L225.27,53.70 L227.33,52.72 L229.40,50.76M252.20,39.97 L252.20,60.57M252.20,42.91 L254.00,40.95 L255.80,39.97 L258.50,39.97 L260.30,40.95 L262.10,42.91 L263.00,45.85 L263.00,47.81 L262.10,50.76 L260.30,52.72 L258.50,53.70 L255.80,53.70 L254.00,52.72 L252.20,50.76M269.00,39.97 L269.00,53.70M269.00,45.85 L269.85,42.91 L271.55,40.95 L273.25,39.97 L275.80,39.97M281.00,45.85 L293.40,45.85 L293.40,43.89 L292.37,41.93 L291.33,40.95 L289.27,39.97 L286.17,39.97 L284.10,40.95 L282.03,42.91 L281.00,45.85 L281.00,47.81 L282.03,50.76 L284.10,52.72 L286.17,53.70 L289.27,53.70 L291.33,52.72 L293.40,50.76M309.40,42.91 L307.60,40.95 L305.80,39.97 L303.10,39.97 L301.30,40.95 L299.50,42.91 L298.60,45.85 L298.60,47.81 L299.50,50.76 L301.30,52.72 L303.10,53.70 L305.80,53.70 L307.60,52.72 L309.40,50.76M313.60,33.10h0.01M313.60,39.97 L313.60,53.70M321.00,39.97 L321.00,60.57M321.00,42.91 L322.80,40.95 L324.60,39.97 L327.30,39.97 L329.10,40.95 L330.90,42.91 L331.80,45.85 L331.80,47.81 L330.90,50.76 L329.10,52.72 L327.30,53.70 L324.60,53.70 L322.80,52.72 L321.00,50.76M339.20,33.10h0.01M339.20,39.97 L339.20,53.70M348.05,33.10 L348.05,49.78 L348.80,52.72 L350.30,53.70 L351.80,53.70M345.80,39.97 L351.05,39.97M367.80,39.97 L367.80,53.70M367.80,42.91 L366.00,40.95 L364.20,39.97 L361.50,39.97 L359.70,40.95 L357.90,42.91 L357.00,45.85 L357.00,47.81 L357.90,50.76 L359.70,52.72 L361.50,53.70 L364.20,53.70 L366.00,52.72 L367.80,50.76M374.45,33.10 L374.45,49.78 L375.20,52.72 L376.70,53.70 L378.20,53.70M372.20,39.97 L377.45,39.97M384.80,33.10h0.01M384.80,39.97 L384.80,53.70M396.35,39.97 L394.69,40.95 L393.03,42.91 L392.20,45.85 L392.20,47.81 L393.03,50.76 L394.69,52.72 L396.35,53.70 L398.85,53.70 L400.51,52.72 L402.17,50.76 L403.00,47.81 L403.00,45.85 L402.17,42.91 L400.51,40.95 L398.85,39.97 L396.35,39.97M409.80,39.97 L409.80,53.70M409.80,43.89 L412.31,40.95 L413.98,39.97 L416.49,39.97 L418.16,40.95 L419.00,43.89 L419.00,53.70M431.80,29.18 L430.54,31.14 L429.29,34.08 L428.03,38.00 L427.40,42.91 L427.40,46.83 L428.03,51.74 L429.29,55.66 L430.54,58.60 L431.80,60.57M438.60,39.97 L438.60,53.70M438.60,43.89 L441.60,40.95 L443.60,39.97 L446.60,39.97 L448.60,40.95 L449.60,43.89 L449.60,53.70M449.60,43.89 L452.60,40.95 L454.60,39.97 L457.60,39.97 L459.60,40.95 L460.60,43.89 L460.60,53.70M465.80,39.97 L465.80,53.70M465.80,43.89 L468.58,40.95 L470.44,39.97 L473.22,39.97 L475.07,40.95 L476.00,43.89 L476.00,53.70M476.00,43.89 L478.78,40.95 L480.64,39.97 L483.42,39.97 L485.27,40.95 L486.20,43.89 L486.20,53.70M493.00,29.18 L494.94,31.14 L496.89,34.08 L498.83,38.00 L499.80,42.91 L499.80,46.83 L498.83,51.74 L496.89,55.66 L494.94,58.60 L493.00,60.57M522.75,33.10 L522.75,53.70M522.75,33.10 L530.14,33.10 L532.61,34.08 L533.43,35.06 L534.25,37.02 L534.25,38.99 L533.43,40.95 L532.61,41.93 L530.14,42.91M522.75,42.91 L530.14,42.91 L532.61,43.89 L533.43,44.87 L534.25,46.83 L534.25,49.78 L533.43,51.74 L532.61,52.72 L530.14,53.70 L522.75,53.70M546.88,33.10 L540.00,53.70M546.88,33.10 L553.75,53.70M542.58,46.83 L551.17,46.83M558.75,33.10 L558.75,53.70M558.75,33.10 L566.62,33.10 L569.25,34.08 L570.12,35.06 L571.00,37.02 L571.00,38.99 L570.12,40.95 L569.25,41.93 L566.62,42.91 L558.75,42.91M564.88,42.91 L571.00,53.70M592.50,33.10 L599.00,53.70M605.50,33.10 L599.00,53.70M621.25,39.97 L621.25,53.70M621.25,42.91 L619.46,40.95 L617.67,39.97 L614.98,39.97 L613.19,40.95 L611.40,42.91 L610.50,45.85 L610.50,47.81 L611.40,50.76 L613.19,52.72 L614.98,53.70 L617.67,53.70 L619.46,52.72 L621.25,50.76M629.00,33.10 L629.00,53.70M635.00,33.10h0.01M635.00,39.97 L635.00,53.70M652.00,33.10 L652.00,53.70M652.00,42.91 L650.33,40.95 L648.67,39.97 L646.17,39.97 L644.50,40.95 L642.83,42.91 L642.00,45.85 L642.00,47.81 L642.83,50.76 L644.50,52.72 L646.17,53.70 L648.67,53.70 L650.33,52.72 L652.00,50.76M678.70,37.02 L680.26,36.04 L682.60,33.10 L682.60,53.70M704.70,39.97 L703.81,42.91 L702.02,44.87 L699.35,45.85 L698.45,45.85 L695.78,44.87 L693.99,42.91 L693.10,39.97 L693.10,38.99 L693.99,36.04 L695.78,34.08 L698.45,33.10 L699.35,33.10 L702.02,34.08 L703.81,36.04 L704.70,39.97 L704.70,44.87 L703.81,49.78 L702.02,52.72 L699.35,53.70 L697.56,53.70 L694.88,52.72 L693.99,50.76M724.30,33.10 L712.70,53.70M712.70,33.10 L724.30,33.10M712.70,53.70 L724.30,53.70M750.77,33.10 L748.29,34.08 L746.63,37.02 L745.80,41.93 L745.80,44.87 L746.63,49.78 L748.29,52.72 L750.77,53.70 L752.43,53.70 L754.91,52.72 L756.57,49.78 L757.40,44.87 L757.40,41.93 L756.57,37.02 L754.91,34.08 L752.43,33.10 L750.77,33.10M777.80,33.10 L769.51,53.70M766.20,33.10 L777.80,33.10M796.50,29.18 L782.40,60.57M808.67,33.10 L806.19,34.08 L804.53,37.02 L803.70,41.93 L803.70,44.87 L804.53,49.78 L806.19,52.72 L808.67,53.70 L810.33,53.70 L812.81,52.72 L814.47,49.78 L815.30,44.87 L815.30,41.93 L814.47,37.02 L812.81,34.08 L810.33,33.10 L808.67,33.10M830.64,33.10 L822.36,33.10 L821.53,41.93 L822.36,40.95 L824.84,39.97 L827.33,39.97 L829.81,40.95 L831.47,42.91 L832.30,45.85 L832.30,47.81 L831.47,50.76 L829.81,52.72 L827.33,53.70 L824.84,53.70 L822.36,52.72 L821.53,51.74 L820.70,49.78M856.23,38.00 L856.23,37.02 L857.06,35.06 L857.89,34.08 L859.54,33.10 L862.86,33.10 L864.51,34.08 L865.34,35.06 L866.17,37.02 L866.17,38.99 L865.34,40.95 L863.69,43.89 L855.40,53.70 L867.00,53.70M878.57,33.10 L875.79,34.08 L873.93,37.02 L873.00,41.93 L873.00,44.87 L873.93,49.78 L875.79,52.72 L878.57,53.70 L880.43,53.70 L883.21,52.72 L885.07,49.78 L886.00,44.87 L886.00,41.93 L885.07,37.02 L883.21,34.08 L880.43,33.10 L878.57,33.10M892.86,38.00 L892.86,37.02 L893.71,35.06 L894.57,34.08 L896.29,33.10 L899.71,33.10 L901.43,34.08 L902.29,35.06 L903.14,37.02 L903.14,38.99 L902.29,40.95 L900.57,43.89 L892.00,53.70 L904.00,53.70M918.67,33.10 L910.00,46.83 L923.00,46.83M918.67,33.10 L918.67,53.70" fill="none" stroke="#000" stroke-width="2.0" stroke-linecap="round" stroke-linejoin="round"/>
</svg></body></html>
